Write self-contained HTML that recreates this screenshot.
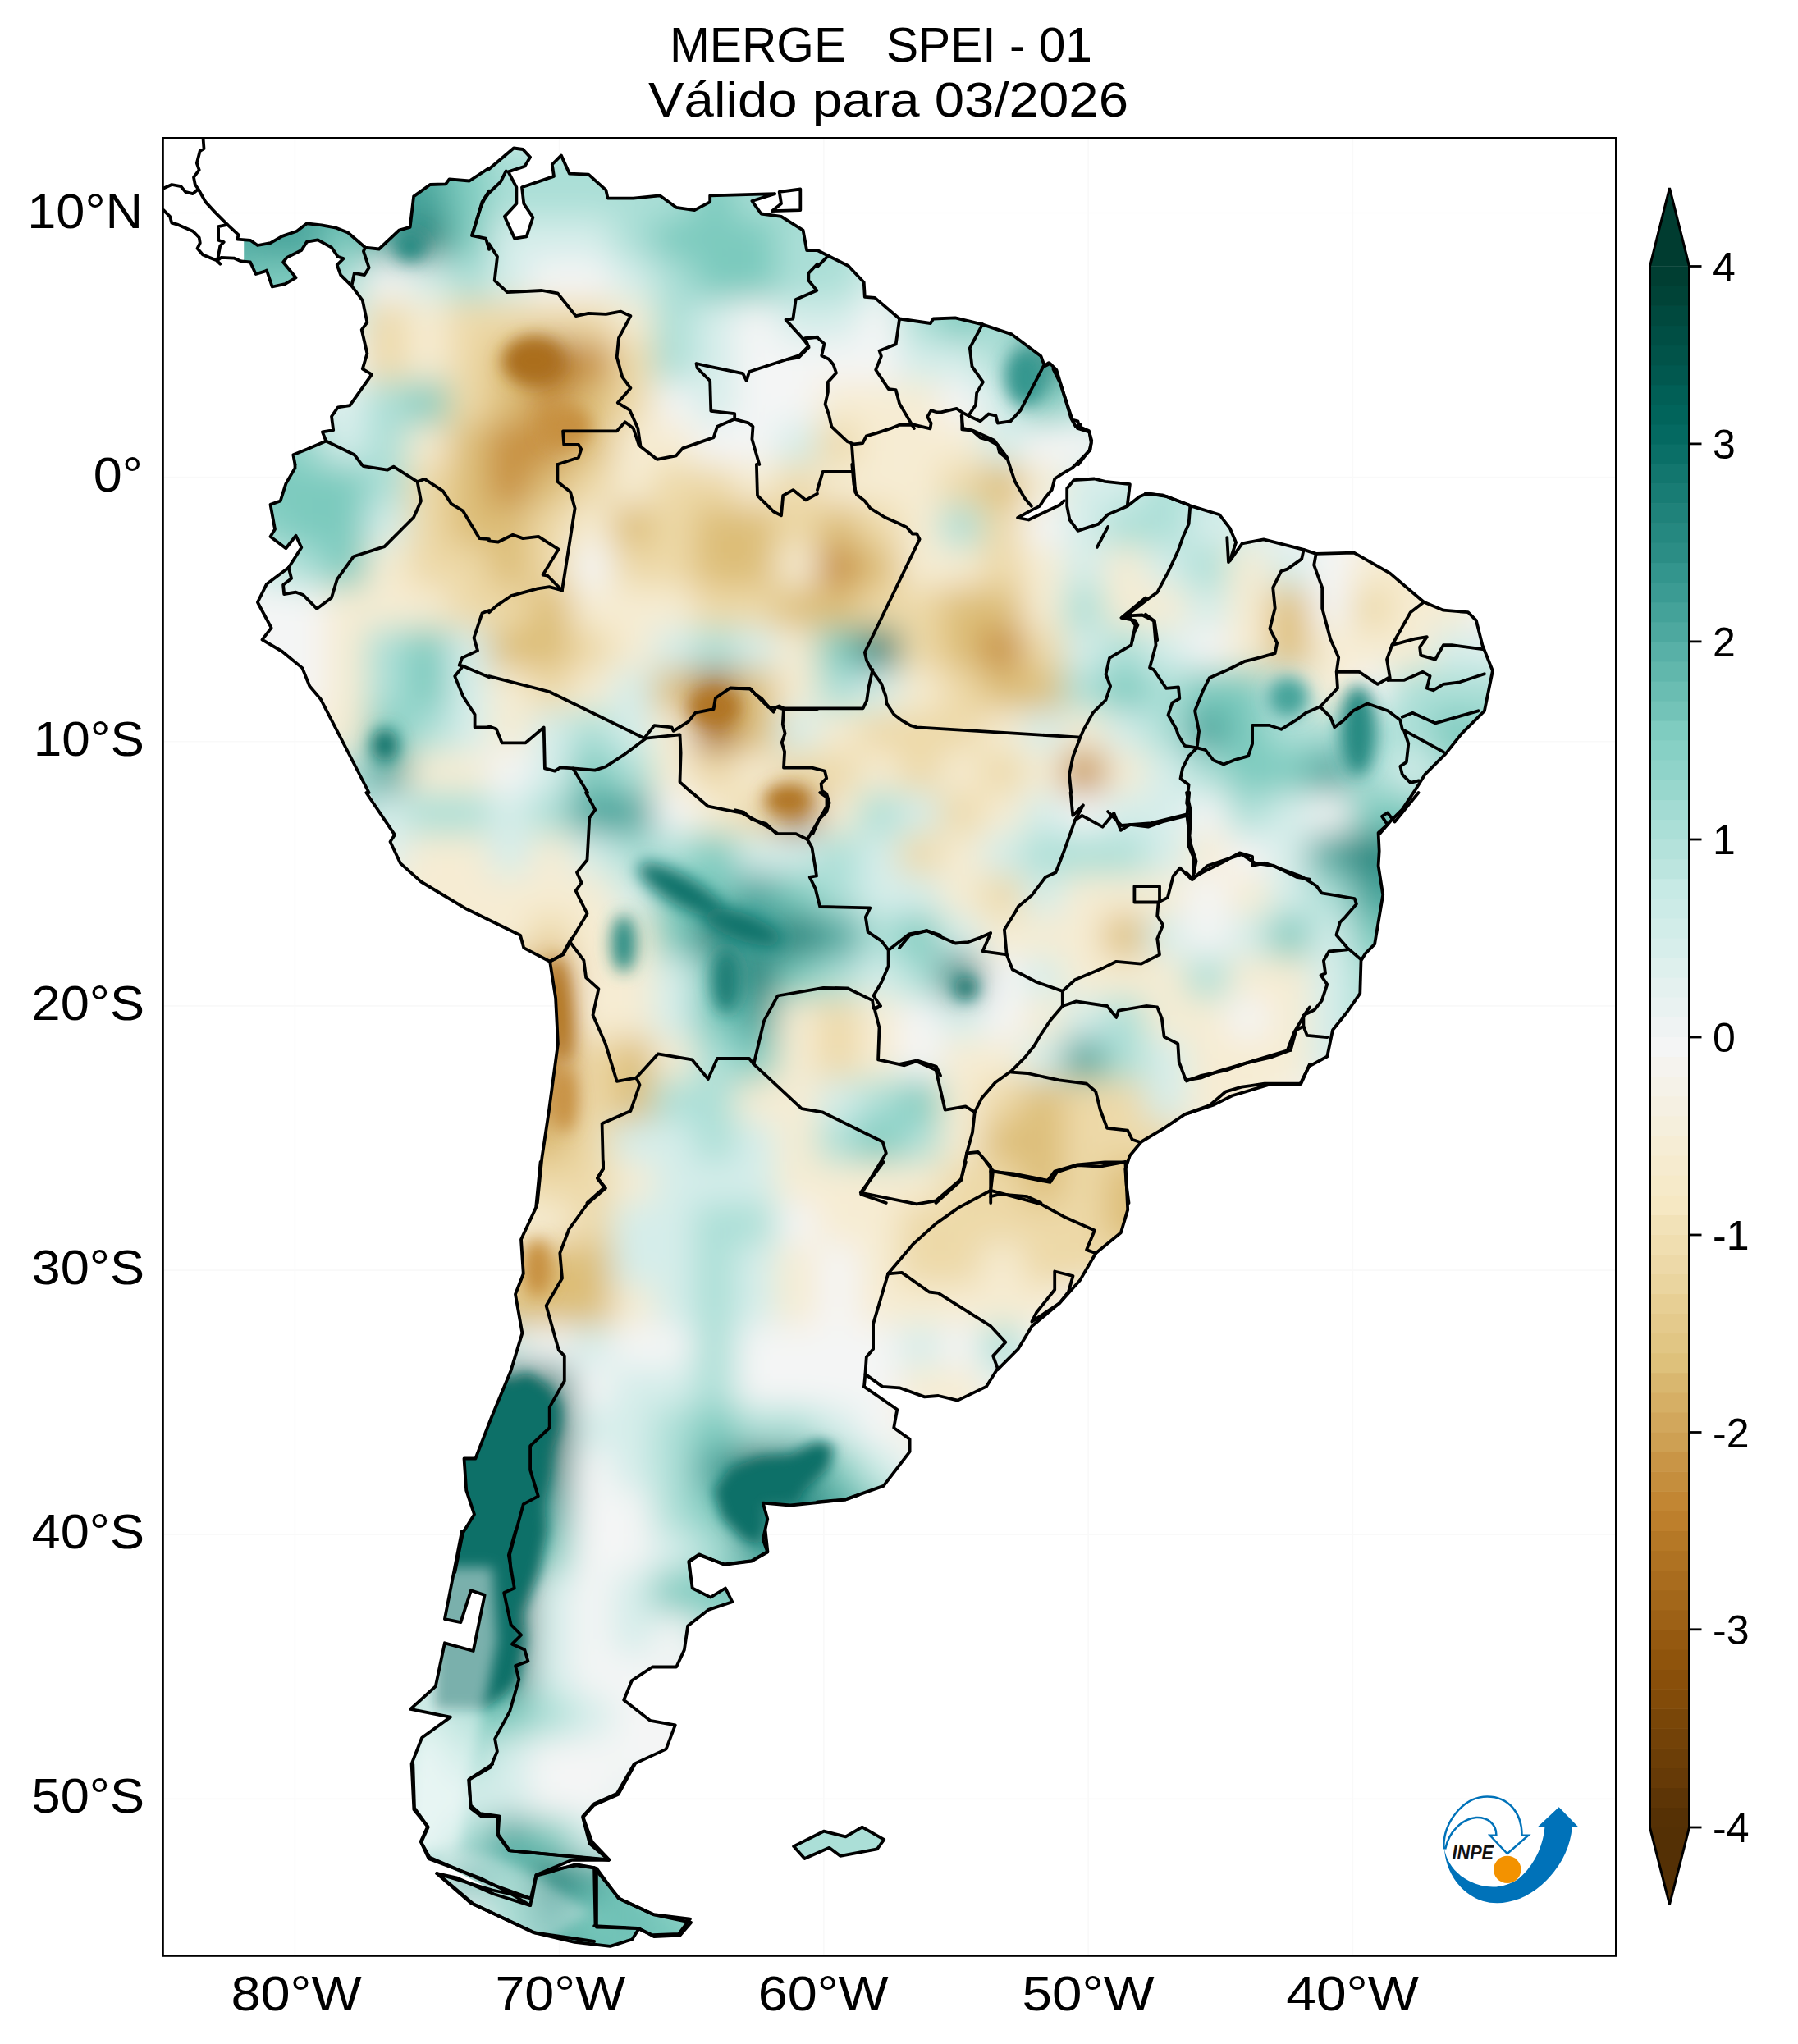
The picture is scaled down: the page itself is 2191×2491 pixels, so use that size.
<!DOCTYPE html><html><head><meta charset="utf-8"><style>html,body{margin:0;padding:0;background:#fff;width:2191px;height:2491px;overflow:hidden}svg{display:block}text{font-family:"Liberation Sans",sans-serif;fill:#000}</style></head><body>
<svg width="2191" height="2491" viewBox="0 0 2191 2491">
<defs><clipPath id="land"><path d="M297.2,292.8 305.0,292.8 313.9,299.0 329.5,296.1 343.9,287.9 361.7,281.7 374.0,272.3 391.8,274.3 409.6,277.7 424.0,283.5 445.2,301.7 461.9,303.5 486.3,280.6 499.7,276.8 504.1,239.4 524.1,225.0 543.1,224.3 547.5,218.3 572.0,220.5 596.0,204.9 626.0,180.5 637.2,182.0 646.1,191.6 639.4,202.7 619.4,209.4 629.4,228.3 629.4,248.3 614.9,263.9 627.1,290.6 641.6,288.4 649.4,265.0 638.3,248.3 636.0,228.3 675.0,214.9 672.8,200.5 683.9,189.4 693.9,211.6 717.2,212.7 738.4,231.6 740.6,241.6 771.8,241.6 804.0,238.3 824.0,252.8 846.3,256.1 865.2,246.1 865.2,238.3 944.2,236.1 916.4,245.0 927.5,260.5 952.0,263.9 978.6,280.6 983.1,305.0 996.0,305.0 1009.3,311.7 1033.8,324.0 1052.7,344.0 1053.8,361.8 1066.1,362.9 1096.1,388.5 1133.9,394.0 1137.3,388.5 1164.0,387.4 1196.2,395.1 1232.9,407.4 1268.5,434.1 1273.0,446.3 1279.6,443.0 1287.4,450.8 1305.2,509.7 1310.8,519.7 1316.4,517.5 1313.0,522.0 1327.5,526.4 1329.7,539.7 1327.5,548.6 1316.9,560.1 1306.8,570.1 1295.2,576.8 1285.2,583.5 1281.8,596.8 1273.5,606.8 1266.8,616.9 1256.8,621.9 1240.1,631.0 1253.5,633.5 1291.8,615.2 1300.2,616.9 1303.5,633.5 1313.5,646.9 1338.6,638.6 1350.2,626.9 1373.6,616.9 1388.6,605.2 1397.0,601.8 1417.0,603.5 1448.7,615.2 1486.1,627.3 1498.6,643.6 1506.1,661.1 1498.6,683.6 1513.6,662.3 1539.9,657.3 1588.7,669.9 1603.7,674.9 1650.0,673.6 1693.8,698.6 1735.1,733.7 1758.9,743.7 1788.9,746.2 1798.9,756.2 1806.4,786.2 1818.9,817.5 1808.9,866.3 1781.4,893.8 1761.4,918.9 1736.3,943.9 1723.8,963.9 1708.8,986.4 1693.8,1001.4 1679.6,1014.9 1680.7,1037.2 1679.6,1055.0 1685.2,1090.6 1675.1,1150.6 1664.0,1161.8 1658.5,1170.7 1657.3,1210.7 1641.8,1233.0 1624.0,1255.2 1617.3,1287.5 1595.1,1299.7 1583.9,1322.0 1546.1,1322.0 1501.6,1335.3 1479.4,1346.4 1446.0,1357.5 1418.6,1374.8 1390.8,1391.5 1376.9,1408.2 1371.3,1424.8 1372.7,1444.3 1374.2,1474.4 1365.9,1502.2 1335.3,1527.2 1315.8,1560.6 1290.8,1588.4 1257.4,1616.2 1240.7,1644.0 1215.7,1669.1 1201.8,1689.9 1167.0,1706.6 1143.4,1701.0 1126.7,1702.4 1096.1,1691.3 1075.3,1689.9 1054.4,1674.6 1053.0,1689.9 1093.3,1717.7 1089.2,1740.0 1108.6,1753.9 1108.6,1769.2 1076.6,1810.9 1029.4,1827.6 996.0,1830.3 1029.9,1827.6 963.1,1834.5 929.8,1831.7 935.3,1851.2 929.8,1876.2 935.3,1891.5 915.9,1902.7 882.5,1906.8 851.9,1894.3 839.4,1902.7 843.7,1935.5 865.9,1946.6 884.0,1935.5 892.3,1952.2 863.1,1961.9 838.1,1981.4 833.9,2010.6 824.2,2031.5 795.0,2031.5 770.0,2048.1 760.2,2071.8 792.2,2096.8 822.8,2102.4 811.7,2131.6 772.8,2149.6 751.9,2185.8 724.1,2198.3 710.2,2213.6 721.3,2244.2 742.2,2266.4 696.9,2266.8 653.5,2285.1 648.5,2313.5 600.1,2303.5 523.4,2263.4 512.7,2244.2 521.1,2226.1 504.4,2205.3 501.6,2149.6 514.1,2117.7 548.9,2092.6 500.2,2082.9 530.8,2055.1 541.9,2002.3 576.7,2012.0 590.6,1943.9 573.9,1938.3 561.4,1977.2 541.9,1973.1 562.8,1866.0 578.0,1845.6 568.2,1816.4 565.5,1777.5 579.4,1777.5 598.8,1727.5 622.5,1670.4 636.4,1624.6 628.0,1577.3 637.8,1552.3 635.0,1510.5 653.1,1471.6 660.4,1410.9 668.7,1355.3 679.9,1271.9 677.1,1216.3 670.1,1171.8 638.2,1155.1 634.0,1139.8 568.6,1107.8 513.0,1074.5 488.0,1052.2 475.5,1025.8 481.0,1017.4 449.6,966.0 390.7,851.9 377.3,836.3 368.4,814.1 343.9,794.0 319.5,779.6 330.6,765.1 313.9,734.0 325.0,711.7 351.7,691.7 367.3,667.2 360.6,652.8 348.4,668.3 329.5,653.9 335.0,645.0 329.5,614.9 341.7,610.5 348.4,589.4 359.5,570.4 359.5,566.0 357.3,554.2 374.0,547.5 397.3,537.5 392.9,526.4 406.2,524.2 404.0,507.5 411.8,496.4 426.3,494.1 453.0,456.3 441.8,449.6 447.4,430.7 440.7,401.8 447.4,392.9 441.8,366.2 428.5,348.4 415.1,335.1 410.7,322.8 418.5,315.1 411.8,312.8 404.0,301.7 387.3,292.4 374.0,294.6 367.3,305.0 349.5,313.9 345.1,319.5 360.6,338.4 347.3,346.2 331.7,349.5 325.0,329.5 322.8,330.6 311.7,334.0 305.0,319.5 297.2,318.4ZM653.5,2285.1 673.5,2278.5 703.5,2273.5 726.9,2276.8 753.6,2313.5 797.0,2333.5 842.0,2342.9 828.7,2358.5 797.0,2360.2 778.6,2350.2 770.3,2363.5 743.6,2371.9 700.2,2366.9 650.2,2355.2 576.7,2320.2 533.4,2283.5 600.1,2303.5 646.8,2313.5ZM967.1,2250.1 1003.8,2231.7 1030.5,2238.4 1050.6,2226.7 1077.2,2241.8 1068.9,2253.4 1023.9,2261.8 1010.5,2251.8 980.5,2265.1ZM1300.2,616.9 1303.5,633.5 1313.5,646.9 1338.6,638.6 1350.2,626.9 1373.6,616.9 1376.9,590.2 1346.9,586.8 1333.5,583.5 1308.5,585.2 1300.2,595.2Z"/></clipPath>
<filter id="bl" x="0" y="0" width="2191" height="2491" filterUnits="userSpaceOnUse"><feGaussianBlur stdDeviation="20"/></filter><filter id="bl2" x="0" y="0" width="2191" height="2491" filterUnits="userSpaceOnUse"><feGaussianBlur stdDeviation="8"/></filter><filter id="bl3" x="0" y="0" width="2191" height="2491" filterUnits="userSpaceOnUse"><feGaussianBlur stdDeviation="10"/></filter></defs>
<g stroke="#f9f9f9" stroke-width="1.6"><line x1="359.4" y1="169.8" x2="359.4" y2="2382" /><line x1="681.6" y1="169.8" x2="681.6" y2="2382" /><line x1="1003.9" y1="169.8" x2="1003.9" y2="2382" /><line x1="1326.2" y1="169.8" x2="1326.2" y2="2382" /><line x1="1648.4" y1="169.8" x2="1648.4" y2="2382" /><line x1="199.8" y1="259.5" x2="1968" y2="259.5" /><line x1="199.8" y1="581.6" x2="1968" y2="581.6" /><line x1="199.8" y1="903.8" x2="1968" y2="903.8" /><line x1="199.8" y1="1225.9" x2="1968" y2="1225.9" /><line x1="199.8" y1="1548.1" x2="1968" y2="1548.1" /><line x1="199.8" y1="1870.2" x2="1968" y2="1870.2" /><line x1="199.8" y1="2192.4" x2="1968" y2="2192.4" /></g>
<g clip-path="url(#land)"><g filter="url(#bl)">
<rect x="196" y="166" width="50" height="50" fill="#47a49b"/>
<rect x="246" y="166" width="50" height="50" fill="#47a49b"/>
<rect x="296" y="166" width="50" height="50" fill="#4da89f"/>
<rect x="346" y="166" width="50" height="50" fill="#52aca3"/>
<rect x="396" y="166" width="50" height="50" fill="#4faaa1"/>
<rect x="446" y="166" width="50" height="50" fill="#47a49b"/>
<rect x="496" y="166" width="50" height="50" fill="#61b7ac"/>
<rect x="546" y="166" width="50" height="50" fill="#87d0c5"/>
<rect x="596" y="166" width="50" height="50" fill="#abdfd7"/>
<rect x="646" y="166" width="50" height="50" fill="#abdfd7"/>
<rect x="696" y="166" width="50" height="50" fill="#abdfd7"/>
<rect x="746" y="166" width="50" height="50" fill="#abdfd7"/>
<rect x="796" y="166" width="50" height="50" fill="#9ad8ce"/>
<rect x="846" y="166" width="50" height="50" fill="#9ad8ce"/>
<rect x="896" y="166" width="50" height="50" fill="#92d4ca"/>
<rect x="946" y="166" width="50" height="50" fill="#abdfd7"/>
<rect x="996" y="166" width="50" height="50" fill="#a8ddd5"/>
<rect x="1046" y="166" width="50" height="50" fill="#abdfd7"/>
<rect x="1096" y="166" width="50" height="50" fill="#abdfd7"/>
<rect x="1146" y="166" width="50" height="50" fill="#c4e9e4"/>
<rect x="1196" y="166" width="50" height="50" fill="#d5edea"/>
<rect x="1246" y="166" width="50" height="50" fill="#a6dcd4"/>
<rect x="1296" y="166" width="50" height="50" fill="#84cfc3"/>
<rect x="1346" y="166" width="50" height="50" fill="#7fccc0"/>
<rect x="1396" y="166" width="50" height="50" fill="#7fccc0"/>
<rect x="1446" y="166" width="50" height="50" fill="#7ccabe"/>
<rect x="196" y="216" width="50" height="50" fill="#52aca3"/>
<rect x="246" y="216" width="50" height="50" fill="#47a49b"/>
<rect x="296" y="216" width="50" height="50" fill="#47a49b"/>
<rect x="346" y="216" width="50" height="50" fill="#58b0a7"/>
<rect x="396" y="216" width="50" height="50" fill="#58b0a7"/>
<rect x="446" y="216" width="50" height="50" fill="#47a49b"/>
<rect x="496" y="216" width="50" height="50" fill="#47a49b"/>
<rect x="546" y="216" width="50" height="50" fill="#7ccabe"/>
<rect x="596" y="216" width="50" height="50" fill="#abdfd7"/>
<rect x="646" y="216" width="50" height="50" fill="#abdfd7"/>
<rect x="696" y="216" width="50" height="50" fill="#abdfd7"/>
<rect x="746" y="216" width="50" height="50" fill="#abdfd7"/>
<rect x="796" y="216" width="50" height="50" fill="#abdfd7"/>
<rect x="846" y="216" width="50" height="50" fill="#7ccabe"/>
<rect x="896" y="216" width="50" height="50" fill="#abdfd7"/>
<rect x="946" y="216" width="50" height="50" fill="#a0dad1"/>
<rect x="996" y="216" width="50" height="50" fill="#abdfd7"/>
<rect x="1046" y="216" width="50" height="50" fill="#abdfd7"/>
<rect x="1096" y="216" width="50" height="50" fill="#c1e8e2"/>
<rect x="1146" y="216" width="50" height="50" fill="#d5edea"/>
<rect x="1196" y="216" width="50" height="50" fill="#abdfd7"/>
<rect x="1246" y="216" width="50" height="50" fill="#8dd2c7"/>
<rect x="1296" y="216" width="50" height="50" fill="#84cfc3"/>
<rect x="1346" y="216" width="50" height="50" fill="#81cec2"/>
<rect x="1396" y="216" width="50" height="50" fill="#7ccabe"/>
<rect x="1446" y="216" width="50" height="50" fill="#79c8bc"/>
<rect x="1496" y="216" width="50" height="50" fill="#7ccabe"/>
<rect x="196" y="266" width="50" height="50" fill="#58b0a7"/>
<rect x="246" y="266" width="50" height="50" fill="#61b7ac"/>
<rect x="296" y="266" width="50" height="50" fill="#47a49b"/>
<rect x="346" y="266" width="50" height="50" fill="#47a49b"/>
<rect x="396" y="266" width="50" height="50" fill="#7ccabe"/>
<rect x="446" y="266" width="50" height="50" fill="#47a49b"/>
<rect x="496" y="266" width="50" height="50" fill="#1d8078"/>
<rect x="546" y="266" width="50" height="50" fill="#7ccabe"/>
<rect x="596" y="266" width="50" height="50" fill="#d5edea"/>
<rect x="646" y="266" width="50" height="50" fill="#d5edea"/>
<rect x="696" y="266" width="50" height="50" fill="#d5edea"/>
<rect x="746" y="266" width="50" height="50" fill="#abdfd7"/>
<rect x="796" y="266" width="50" height="50" fill="#7ccabe"/>
<rect x="846" y="266" width="50" height="50" fill="#7ccabe"/>
<rect x="896" y="266" width="50" height="50" fill="#7ccabe"/>
<rect x="946" y="266" width="50" height="50" fill="#abdfd7"/>
<rect x="996" y="266" width="50" height="50" fill="#abdfd7"/>
<rect x="1046" y="266" width="50" height="50" fill="#bce5df"/>
<rect x="1096" y="266" width="50" height="50" fill="#d5edea"/>
<rect x="1146" y="266" width="50" height="50" fill="#b1e1da"/>
<rect x="1196" y="266" width="50" height="50" fill="#92d4ca"/>
<rect x="1246" y="266" width="50" height="50" fill="#8ad1c6"/>
<rect x="1296" y="266" width="50" height="50" fill="#87d0c5"/>
<rect x="1346" y="266" width="50" height="50" fill="#7ccabe"/>
<rect x="1396" y="266" width="50" height="50" fill="#76c6ba"/>
<rect x="1446" y="266" width="50" height="50" fill="#7ccabe"/>
<rect x="1496" y="266" width="50" height="50" fill="#7fccc0"/>
<rect x="196" y="316" width="50" height="50" fill="#6abdb2"/>
<rect x="246" y="316" width="50" height="50" fill="#61b7ac"/>
<rect x="296" y="316" width="50" height="50" fill="#7ccabe"/>
<rect x="346" y="316" width="50" height="50" fill="#7ccabe"/>
<rect x="396" y="316" width="50" height="50" fill="#abdfd7"/>
<rect x="446" y="316" width="50" height="50" fill="#f4f5f5"/>
<rect x="496" y="316" width="50" height="50" fill="#d5edea"/>
<rect x="546" y="316" width="50" height="50" fill="#abdfd7"/>
<rect x="596" y="316" width="50" height="50" fill="#d5edea"/>
<rect x="646" y="316" width="50" height="50" fill="#f4f5f5"/>
<rect x="696" y="316" width="50" height="50" fill="#f4f5f5"/>
<rect x="746" y="316" width="50" height="50" fill="#d5edea"/>
<rect x="796" y="316" width="50" height="50" fill="#abdfd7"/>
<rect x="846" y="316" width="50" height="50" fill="#7ccabe"/>
<rect x="896" y="316" width="50" height="50" fill="#7ccabe"/>
<rect x="946" y="316" width="50" height="50" fill="#abdfd7"/>
<rect x="996" y="316" width="50" height="50" fill="#abdfd7"/>
<rect x="1046" y="316" width="50" height="50" fill="#d5edea"/>
<rect x="1096" y="316" width="50" height="50" fill="#c4e9e4"/>
<rect x="1146" y="316" width="50" height="50" fill="#9ad8ce"/>
<rect x="1196" y="316" width="50" height="50" fill="#8dd2c7"/>
<rect x="1246" y="316" width="50" height="50" fill="#92d4ca"/>
<rect x="1296" y="316" width="50" height="50" fill="#7ccabe"/>
<rect x="1346" y="316" width="50" height="50" fill="#70c1b6"/>
<rect x="1396" y="316" width="50" height="50" fill="#7ccabe"/>
<rect x="1446" y="316" width="50" height="50" fill="#81cec2"/>
<rect x="1496" y="316" width="50" height="50" fill="#a0dad1"/>
<rect x="1546" y="316" width="50" height="50" fill="#d5edea"/>
<rect x="196" y="366" width="50" height="50" fill="#6dbfb4"/>
<rect x="246" y="366" width="50" height="50" fill="#7ccabe"/>
<rect x="296" y="366" width="50" height="50" fill="#7ccabe"/>
<rect x="346" y="366" width="50" height="50" fill="#a0dad1"/>
<rect x="396" y="366" width="50" height="50" fill="#d5edea"/>
<rect x="446" y="366" width="50" height="50" fill="#edd9a8"/>
<rect x="496" y="366" width="50" height="50" fill="#f6ecd3"/>
<rect x="546" y="366" width="50" height="50" fill="#edd9a8"/>
<rect x="596" y="366" width="50" height="50" fill="#edd9a8"/>
<rect x="646" y="366" width="50" height="50" fill="#edd9a8"/>
<rect x="696" y="366" width="50" height="50" fill="#edd9a8"/>
<rect x="746" y="366" width="50" height="50" fill="#f6ecd3"/>
<rect x="796" y="366" width="50" height="50" fill="#abdfd7"/>
<rect x="846" y="366" width="50" height="50" fill="#d5edea"/>
<rect x="896" y="366" width="50" height="50" fill="#f4f5f5"/>
<rect x="946" y="366" width="50" height="50" fill="#d5edea"/>
<rect x="996" y="366" width="50" height="50" fill="#d5edea"/>
<rect x="1046" y="366" width="50" height="50" fill="#f4f5f5"/>
<rect x="1096" y="366" width="50" height="50" fill="#abdfd7"/>
<rect x="1146" y="366" width="50" height="50" fill="#7ccabe"/>
<rect x="1196" y="366" width="50" height="50" fill="#abdfd7"/>
<rect x="1246" y="366" width="50" height="50" fill="#7ccabe"/>
<rect x="1296" y="366" width="50" height="50" fill="#58b0a7"/>
<rect x="1346" y="366" width="50" height="50" fill="#7ccabe"/>
<rect x="1396" y="366" width="50" height="50" fill="#87d0c5"/>
<rect x="1446" y="366" width="50" height="50" fill="#a3dbd3"/>
<rect x="1496" y="366" width="50" height="50" fill="#d5edea"/>
<rect x="1546" y="366" width="50" height="50" fill="#c4e9e4"/>
<rect x="1596" y="366" width="50" height="50" fill="#abdfd7"/>
<rect x="196" y="416" width="50" height="50" fill="#7ccabe"/>
<rect x="246" y="416" width="50" height="50" fill="#7ccabe"/>
<rect x="296" y="416" width="50" height="50" fill="#a8ddd5"/>
<rect x="346" y="416" width="50" height="50" fill="#d5edea"/>
<rect x="396" y="416" width="50" height="50" fill="#f5f3ec"/>
<rect x="446" y="416" width="50" height="50" fill="#edd9a8"/>
<rect x="496" y="416" width="50" height="50" fill="#f6ecd3"/>
<rect x="546" y="416" width="50" height="50" fill="#edd9a8"/>
<rect x="596" y="416" width="50" height="50" fill="#ddbe78"/>
<rect x="646" y="416" width="50" height="50" fill="#a96c1e"/>
<rect x="696" y="416" width="50" height="50" fill="#c79040"/>
<rect x="746" y="416" width="50" height="50" fill="#edd9a8"/>
<rect x="796" y="416" width="50" height="50" fill="#abdfd7"/>
<rect x="846" y="416" width="50" height="50" fill="#d5edea"/>
<rect x="896" y="416" width="50" height="50" fill="#f4f5f5"/>
<rect x="946" y="416" width="50" height="50" fill="#f4f5f5"/>
<rect x="996" y="416" width="50" height="50" fill="#f4f5f5"/>
<rect x="1046" y="416" width="50" height="50" fill="#f4f5f5"/>
<rect x="1096" y="416" width="50" height="50" fill="#d5edea"/>
<rect x="1146" y="416" width="50" height="50" fill="#d5edea"/>
<rect x="1196" y="416" width="50" height="50" fill="#abdfd7"/>
<rect x="1246" y="416" width="50" height="50" fill="#1d8078"/>
<rect x="1296" y="416" width="50" height="50" fill="#7ccabe"/>
<rect x="1346" y="416" width="50" height="50" fill="#92d4ca"/>
<rect x="1396" y="416" width="50" height="50" fill="#abdfd7"/>
<rect x="1446" y="416" width="50" height="50" fill="#d5edea"/>
<rect x="1496" y="416" width="50" height="50" fill="#c4e9e4"/>
<rect x="1546" y="416" width="50" height="50" fill="#abdfd7"/>
<rect x="1596" y="416" width="50" height="50" fill="#cbebe6"/>
<rect x="1646" y="416" width="50" height="50" fill="#d5edea"/>
<rect x="1696" y="416" width="50" height="50" fill="#d5edea"/>
<rect x="196" y="466" width="50" height="50" fill="#7ccabe"/>
<rect x="246" y="466" width="50" height="50" fill="#7ccabe"/>
<rect x="296" y="466" width="50" height="50" fill="#b4e2db"/>
<rect x="346" y="466" width="50" height="50" fill="#d5edea"/>
<rect x="396" y="466" width="50" height="50" fill="#ddefed"/>
<rect x="446" y="466" width="50" height="50" fill="#abdfd7"/>
<rect x="496" y="466" width="50" height="50" fill="#7ccabe"/>
<rect x="546" y="466" width="50" height="50" fill="#edd9a8"/>
<rect x="596" y="466" width="50" height="50" fill="#ddbe78"/>
<rect x="646" y="466" width="50" height="50" fill="#c79040"/>
<rect x="696" y="466" width="50" height="50" fill="#ddbe78"/>
<rect x="746" y="466" width="50" height="50" fill="#edd9a8"/>
<rect x="796" y="466" width="50" height="50" fill="#f4f5f5"/>
<rect x="846" y="466" width="50" height="50" fill="#d5edea"/>
<rect x="896" y="466" width="50" height="50" fill="#f4f5f5"/>
<rect x="946" y="466" width="50" height="50" fill="#f4f5f5"/>
<rect x="996" y="466" width="50" height="50" fill="#f6ecd3"/>
<rect x="1046" y="466" width="50" height="50" fill="#f6ecd3"/>
<rect x="1096" y="466" width="50" height="50" fill="#f6ecd3"/>
<rect x="1146" y="466" width="50" height="50" fill="#f4f5f5"/>
<rect x="1196" y="466" width="50" height="50" fill="#d5edea"/>
<rect x="1246" y="466" width="50" height="50" fill="#7ccabe"/>
<rect x="1296" y="466" width="50" height="50" fill="#abdfd7"/>
<rect x="1346" y="466" width="50" height="50" fill="#c4e9e4"/>
<rect x="1396" y="466" width="50" height="50" fill="#d5edea"/>
<rect x="1446" y="466" width="50" height="50" fill="#c7eae5"/>
<rect x="1496" y="466" width="50" height="50" fill="#abdfd7"/>
<rect x="1546" y="466" width="50" height="50" fill="#cbebe6"/>
<rect x="1596" y="466" width="50" height="50" fill="#d5edea"/>
<rect x="1646" y="466" width="50" height="50" fill="#d5edea"/>
<rect x="1696" y="466" width="50" height="50" fill="#f5f4f0"/>
<rect x="1746" y="466" width="50" height="50" fill="#f6edd7"/>
<rect x="1796" y="466" width="50" height="50" fill="#f6edd5"/>
<rect x="1846" y="466" width="50" height="50" fill="#f6ecd3"/>
<rect x="196" y="516" width="50" height="50" fill="#7ccabe"/>
<rect x="246" y="516" width="50" height="50" fill="#7ccabe"/>
<rect x="296" y="516" width="50" height="50" fill="#7ccabe"/>
<rect x="346" y="516" width="50" height="50" fill="#9ad8ce"/>
<rect x="396" y="516" width="50" height="50" fill="#d5edea"/>
<rect x="446" y="516" width="50" height="50" fill="#abdfd7"/>
<rect x="496" y="516" width="50" height="50" fill="#f6ecd3"/>
<rect x="546" y="516" width="50" height="50" fill="#ddbe78"/>
<rect x="596" y="516" width="50" height="50" fill="#c79040"/>
<rect x="646" y="516" width="50" height="50" fill="#c79040"/>
<rect x="696" y="516" width="50" height="50" fill="#ddbe78"/>
<rect x="746" y="516" width="50" height="50" fill="#f6ecd3"/>
<rect x="796" y="516" width="50" height="50" fill="#f6ecd3"/>
<rect x="846" y="516" width="50" height="50" fill="#f4f5f5"/>
<rect x="896" y="516" width="50" height="50" fill="#f4f5f5"/>
<rect x="946" y="516" width="50" height="50" fill="#d5edea"/>
<rect x="996" y="516" width="50" height="50" fill="#edd9a8"/>
<rect x="1046" y="516" width="50" height="50" fill="#f6ecd3"/>
<rect x="1096" y="516" width="50" height="50" fill="#f6ecd3"/>
<rect x="1146" y="516" width="50" height="50" fill="#f6ecd3"/>
<rect x="1196" y="516" width="50" height="50" fill="#d5edea"/>
<rect x="1246" y="516" width="50" height="50" fill="#f4f5f5"/>
<rect x="1296" y="516" width="50" height="50" fill="#f4f5f5"/>
<rect x="1346" y="516" width="50" height="50" fill="#d5edea"/>
<rect x="1396" y="516" width="50" height="50" fill="#cbebe6"/>
<rect x="1446" y="516" width="50" height="50" fill="#abdfd7"/>
<rect x="1496" y="516" width="50" height="50" fill="#c9eae6"/>
<rect x="1546" y="516" width="50" height="50" fill="#d5edea"/>
<rect x="1596" y="516" width="50" height="50" fill="#d5edea"/>
<rect x="1646" y="516" width="50" height="50" fill="#f5f5f4"/>
<rect x="1696" y="516" width="50" height="50" fill="#f6eedb"/>
<rect x="1746" y="516" width="50" height="50" fill="#f6edd7"/>
<rect x="1796" y="516" width="50" height="50" fill="#f6ecd3"/>
<rect x="1846" y="516" width="50" height="50" fill="#f6ecd3"/>
<rect x="1896" y="516" width="50" height="50" fill="#f6ecd3"/>
<rect x="1946" y="516" width="50" height="50" fill="#f6ecd3"/>
<rect x="196" y="566" width="50" height="50" fill="#b1e1da"/>
<rect x="246" y="566" width="50" height="50" fill="#81cec2"/>
<rect x="296" y="566" width="50" height="50" fill="#7ccabe"/>
<rect x="346" y="566" width="50" height="50" fill="#7ccabe"/>
<rect x="396" y="566" width="50" height="50" fill="#7ccabe"/>
<rect x="446" y="566" width="50" height="50" fill="#abdfd7"/>
<rect x="496" y="566" width="50" height="50" fill="#edd9a8"/>
<rect x="546" y="566" width="50" height="50" fill="#ddbe78"/>
<rect x="596" y="566" width="50" height="50" fill="#c79040"/>
<rect x="646" y="566" width="50" height="50" fill="#ddbe78"/>
<rect x="696" y="566" width="50" height="50" fill="#edd9a8"/>
<rect x="746" y="566" width="50" height="50" fill="#f6ecd3"/>
<rect x="796" y="566" width="50" height="50" fill="#edd9a8"/>
<rect x="846" y="566" width="50" height="50" fill="#edd9a8"/>
<rect x="896" y="566" width="50" height="50" fill="#f6ecd3"/>
<rect x="946" y="566" width="50" height="50" fill="#edd9a8"/>
<rect x="996" y="566" width="50" height="50" fill="#f6ecd3"/>
<rect x="1046" y="566" width="50" height="50" fill="#f6ecd3"/>
<rect x="1096" y="566" width="50" height="50" fill="#f6ecd3"/>
<rect x="1146" y="566" width="50" height="50" fill="#edd9a8"/>
<rect x="1196" y="566" width="50" height="50" fill="#ddbe78"/>
<rect x="1246" y="566" width="50" height="50" fill="#f6ecd3"/>
<rect x="1296" y="566" width="50" height="50" fill="#d5edea"/>
<rect x="1346" y="566" width="50" height="50" fill="#d5edea"/>
<rect x="1396" y="566" width="50" height="50" fill="#abdfd7"/>
<rect x="1446" y="566" width="50" height="50" fill="#c4e9e4"/>
<rect x="1496" y="566" width="50" height="50" fill="#d5edea"/>
<rect x="1546" y="566" width="50" height="50" fill="#d5edea"/>
<rect x="1596" y="566" width="50" height="50" fill="#eff3f3"/>
<rect x="1646" y="566" width="50" height="50" fill="#f5f1e4"/>
<rect x="1696" y="566" width="50" height="50" fill="#f6eedb"/>
<rect x="1746" y="566" width="50" height="50" fill="#f6ecd3"/>
<rect x="1796" y="566" width="50" height="50" fill="#f6ecd3"/>
<rect x="1846" y="566" width="50" height="50" fill="#f6ecd3"/>
<rect x="1896" y="566" width="50" height="50" fill="#f6ecd3"/>
<rect x="1946" y="566" width="50" height="50" fill="#f6edd7"/>
<rect x="196" y="616" width="50" height="50" fill="#f4f5f5"/>
<rect x="246" y="616" width="50" height="50" fill="#b9e4de"/>
<rect x="296" y="616" width="50" height="50" fill="#8dd2c7"/>
<rect x="346" y="616" width="50" height="50" fill="#7ccabe"/>
<rect x="396" y="616" width="50" height="50" fill="#7ccabe"/>
<rect x="446" y="616" width="50" height="50" fill="#d5edea"/>
<rect x="496" y="616" width="50" height="50" fill="#edd9a8"/>
<rect x="546" y="616" width="50" height="50" fill="#ddbe78"/>
<rect x="596" y="616" width="50" height="50" fill="#ddbe78"/>
<rect x="646" y="616" width="50" height="50" fill="#edd9a8"/>
<rect x="696" y="616" width="50" height="50" fill="#f6ecd3"/>
<rect x="746" y="616" width="50" height="50" fill="#ddbe78"/>
<rect x="796" y="616" width="50" height="50" fill="#edd9a8"/>
<rect x="846" y="616" width="50" height="50" fill="#ddbe78"/>
<rect x="896" y="616" width="50" height="50" fill="#ddbe78"/>
<rect x="946" y="616" width="50" height="50" fill="#edd9a8"/>
<rect x="996" y="616" width="50" height="50" fill="#ddbe78"/>
<rect x="1046" y="616" width="50" height="50" fill="#edd9a8"/>
<rect x="1096" y="616" width="50" height="50" fill="#f6ecd3"/>
<rect x="1146" y="616" width="50" height="50" fill="#abdfd7"/>
<rect x="1196" y="616" width="50" height="50" fill="#edd9a8"/>
<rect x="1246" y="616" width="50" height="50" fill="#f4f5f5"/>
<rect x="1296" y="616" width="50" height="50" fill="#d5edea"/>
<rect x="1346" y="616" width="50" height="50" fill="#abdfd7"/>
<rect x="1396" y="616" width="50" height="50" fill="#abdfd7"/>
<rect x="1446" y="616" width="50" height="50" fill="#d5edea"/>
<rect x="1496" y="616" width="50" height="50" fill="#d5edea"/>
<rect x="1546" y="616" width="50" height="50" fill="#edf3f2"/>
<rect x="1596" y="616" width="50" height="50" fill="#f4f5f5"/>
<rect x="1646" y="616" width="50" height="50" fill="#f5f1e4"/>
<rect x="1696" y="616" width="50" height="50" fill="#f6ecd3"/>
<rect x="1746" y="616" width="50" height="50" fill="#f6ecd1"/>
<rect x="1796" y="616" width="50" height="50" fill="#f6ecd3"/>
<rect x="1846" y="616" width="50" height="50" fill="#f6ecd3"/>
<rect x="1896" y="616" width="50" height="50" fill="#f6eedb"/>
<rect x="1946" y="616" width="50" height="50" fill="#f6eedb"/>
<rect x="196" y="666" width="50" height="50" fill="#f4f5f5"/>
<rect x="246" y="666" width="50" height="50" fill="#f4f5f5"/>
<rect x="296" y="666" width="50" height="50" fill="#ccebe7"/>
<rect x="346" y="666" width="50" height="50" fill="#abdfd7"/>
<rect x="396" y="666" width="50" height="50" fill="#7ccabe"/>
<rect x="446" y="666" width="50" height="50" fill="#f6ecd3"/>
<rect x="496" y="666" width="50" height="50" fill="#edd9a8"/>
<rect x="546" y="666" width="50" height="50" fill="#edd9a8"/>
<rect x="596" y="666" width="50" height="50" fill="#ddbe78"/>
<rect x="646" y="666" width="50" height="50" fill="#edd9a8"/>
<rect x="696" y="666" width="50" height="50" fill="#f4f5f5"/>
<rect x="746" y="666" width="50" height="50" fill="#edd9a8"/>
<rect x="796" y="666" width="50" height="50" fill="#edd9a8"/>
<rect x="846" y="666" width="50" height="50" fill="#ddbe78"/>
<rect x="896" y="666" width="50" height="50" fill="#ddbe78"/>
<rect x="946" y="666" width="50" height="50" fill="#f6ecd3"/>
<rect x="996" y="666" width="50" height="50" fill="#c79040"/>
<rect x="1046" y="666" width="50" height="50" fill="#ddbe78"/>
<rect x="1096" y="666" width="50" height="50" fill="#f6ecd3"/>
<rect x="1146" y="666" width="50" height="50" fill="#f6ecd3"/>
<rect x="1196" y="666" width="50" height="50" fill="#edd9a8"/>
<rect x="1246" y="666" width="50" height="50" fill="#f6ecd3"/>
<rect x="1296" y="666" width="50" height="50" fill="#d5edea"/>
<rect x="1346" y="666" width="50" height="50" fill="#f6ecd3"/>
<rect x="1396" y="666" width="50" height="50" fill="#d5edea"/>
<rect x="1446" y="666" width="50" height="50" fill="#abdfd7"/>
<rect x="1496" y="666" width="50" height="50" fill="#f6ecd3"/>
<rect x="1546" y="666" width="50" height="50" fill="#d5edea"/>
<rect x="1596" y="666" width="50" height="50" fill="#f4f5f5"/>
<rect x="1646" y="666" width="50" height="50" fill="#f6ecd3"/>
<rect x="1696" y="666" width="50" height="50" fill="#f6eacb"/>
<rect x="1746" y="666" width="50" height="50" fill="#f6ecd3"/>
<rect x="1796" y="666" width="50" height="50" fill="#f6ecd3"/>
<rect x="1846" y="666" width="50" height="50" fill="#f5f1e4"/>
<rect x="1896" y="666" width="50" height="50" fill="#f5f0e2"/>
<rect x="1946" y="666" width="50" height="50" fill="#f5f1e6"/>
<rect x="196" y="716" width="50" height="50" fill="#f4f5f5"/>
<rect x="246" y="716" width="50" height="50" fill="#f4f5f5"/>
<rect x="296" y="716" width="50" height="50" fill="#f4f5f5"/>
<rect x="346" y="716" width="50" height="50" fill="#f4f5f5"/>
<rect x="396" y="716" width="50" height="50" fill="#f6ecd3"/>
<rect x="446" y="716" width="50" height="50" fill="#f6ecd3"/>
<rect x="496" y="716" width="50" height="50" fill="#f6ecd3"/>
<rect x="546" y="716" width="50" height="50" fill="#edd9a8"/>
<rect x="596" y="716" width="50" height="50" fill="#edd9a8"/>
<rect x="646" y="716" width="50" height="50" fill="#ddbe78"/>
<rect x="696" y="716" width="50" height="50" fill="#f6ecd3"/>
<rect x="746" y="716" width="50" height="50" fill="#f6ecd3"/>
<rect x="796" y="716" width="50" height="50" fill="#f6ecd3"/>
<rect x="846" y="716" width="50" height="50" fill="#edd9a8"/>
<rect x="896" y="716" width="50" height="50" fill="#edd9a8"/>
<rect x="946" y="716" width="50" height="50" fill="#ddbe78"/>
<rect x="996" y="716" width="50" height="50" fill="#ddbe78"/>
<rect x="1046" y="716" width="50" height="50" fill="#edd9a8"/>
<rect x="1096" y="716" width="50" height="50" fill="#edd9a8"/>
<rect x="1146" y="716" width="50" height="50" fill="#ddbe78"/>
<rect x="1196" y="716" width="50" height="50" fill="#ddbe78"/>
<rect x="1246" y="716" width="50" height="50" fill="#f6ecd3"/>
<rect x="1296" y="716" width="50" height="50" fill="#abdfd7"/>
<rect x="1346" y="716" width="50" height="50" fill="#f6ecd3"/>
<rect x="1396" y="716" width="50" height="50" fill="#f6ecd3"/>
<rect x="1446" y="716" width="50" height="50" fill="#d5edea"/>
<rect x="1496" y="716" width="50" height="50" fill="#f6ecd3"/>
<rect x="1546" y="716" width="50" height="50" fill="#ddbe78"/>
<rect x="1596" y="716" width="50" height="50" fill="#f4f5f5"/>
<rect x="1646" y="716" width="50" height="50" fill="#edd9a8"/>
<rect x="1696" y="716" width="50" height="50" fill="#f6ecd3"/>
<rect x="1746" y="716" width="50" height="50" fill="#f6ecd3"/>
<rect x="1796" y="716" width="50" height="50" fill="#f4f5f5"/>
<rect x="1846" y="716" width="50" height="50" fill="#f5f4f2"/>
<rect x="1896" y="716" width="50" height="50" fill="#f2f4f4"/>
<rect x="1946" y="716" width="50" height="50" fill="#f0f4f3"/>
<rect x="196" y="766" width="50" height="50" fill="#f4f5f5"/>
<rect x="246" y="766" width="50" height="50" fill="#f4f5f5"/>
<rect x="296" y="766" width="50" height="50" fill="#f4f5f5"/>
<rect x="346" y="766" width="50" height="50" fill="#f4f5f5"/>
<rect x="396" y="766" width="50" height="50" fill="#f6ecd3"/>
<rect x="446" y="766" width="50" height="50" fill="#abdfd7"/>
<rect x="496" y="766" width="50" height="50" fill="#7ccabe"/>
<rect x="546" y="766" width="50" height="50" fill="#d5edea"/>
<rect x="596" y="766" width="50" height="50" fill="#ddbe78"/>
<rect x="646" y="766" width="50" height="50" fill="#ddbe78"/>
<rect x="696" y="766" width="50" height="50" fill="#edd9a8"/>
<rect x="746" y="766" width="50" height="50" fill="#f6ecd3"/>
<rect x="796" y="766" width="50" height="50" fill="#d5edea"/>
<rect x="846" y="766" width="50" height="50" fill="#abdfd7"/>
<rect x="896" y="766" width="50" height="50" fill="#d5edea"/>
<rect x="946" y="766" width="50" height="50" fill="#f6ecd3"/>
<rect x="996" y="766" width="50" height="50" fill="#7ccabe"/>
<rect x="1046" y="766" width="50" height="50" fill="#1d8078"/>
<rect x="1096" y="766" width="50" height="50" fill="#edd9a8"/>
<rect x="1146" y="766" width="50" height="50" fill="#ddbe78"/>
<rect x="1196" y="766" width="50" height="50" fill="#c79040"/>
<rect x="1246" y="766" width="50" height="50" fill="#edd9a8"/>
<rect x="1296" y="766" width="50" height="50" fill="#d5edea"/>
<rect x="1346" y="766" width="50" height="50" fill="#abdfd7"/>
<rect x="1396" y="766" width="50" height="50" fill="#d5edea"/>
<rect x="1446" y="766" width="50" height="50" fill="#f4f5f5"/>
<rect x="1496" y="766" width="50" height="50" fill="#f6ecd3"/>
<rect x="1546" y="766" width="50" height="50" fill="#ddbe78"/>
<rect x="1596" y="766" width="50" height="50" fill="#f6ecd3"/>
<rect x="1646" y="766" width="50" height="50" fill="#f6ecd3"/>
<rect x="1696" y="766" width="50" height="50" fill="#f6ecd3"/>
<rect x="1746" y="766" width="50" height="50" fill="#d5edea"/>
<rect x="1796" y="766" width="50" height="50" fill="#e0f0ee"/>
<rect x="1846" y="766" width="50" height="50" fill="#d9eeeb"/>
<rect x="1896" y="766" width="50" height="50" fill="#dbefec"/>
<rect x="1946" y="766" width="50" height="50" fill="#d9eeeb"/>
<rect x="196" y="816" width="50" height="50" fill="#f4f5f5"/>
<rect x="246" y="816" width="50" height="50" fill="#f4f5f5"/>
<rect x="296" y="816" width="50" height="50" fill="#f4f5f5"/>
<rect x="346" y="816" width="50" height="50" fill="#f4f5f5"/>
<rect x="396" y="816" width="50" height="50" fill="#f6ecd3"/>
<rect x="446" y="816" width="50" height="50" fill="#abdfd7"/>
<rect x="496" y="816" width="50" height="50" fill="#7ccabe"/>
<rect x="546" y="816" width="50" height="50" fill="#d5edea"/>
<rect x="596" y="816" width="50" height="50" fill="#f6ecd3"/>
<rect x="646" y="816" width="50" height="50" fill="#edd9a8"/>
<rect x="696" y="816" width="50" height="50" fill="#f6ecd3"/>
<rect x="746" y="816" width="50" height="50" fill="#d5edea"/>
<rect x="796" y="816" width="50" height="50" fill="#ddbe78"/>
<rect x="846" y="816" width="50" height="50" fill="#a96c1e"/>
<rect x="896" y="816" width="50" height="50" fill="#ddbe78"/>
<rect x="946" y="816" width="50" height="50" fill="#f6ecd3"/>
<rect x="996" y="816" width="50" height="50" fill="#abdfd7"/>
<rect x="1046" y="816" width="50" height="50" fill="#d5edea"/>
<rect x="1096" y="816" width="50" height="50" fill="#f6ecd3"/>
<rect x="1146" y="816" width="50" height="50" fill="#edd9a8"/>
<rect x="1196" y="816" width="50" height="50" fill="#ddbe78"/>
<rect x="1246" y="816" width="50" height="50" fill="#ddbe78"/>
<rect x="1296" y="816" width="50" height="50" fill="#abdfd7"/>
<rect x="1346" y="816" width="50" height="50" fill="#7ccabe"/>
<rect x="1396" y="816" width="50" height="50" fill="#abdfd7"/>
<rect x="1446" y="816" width="50" height="50" fill="#7ccabe"/>
<rect x="1496" y="816" width="50" height="50" fill="#7ccabe"/>
<rect x="1546" y="816" width="50" height="50" fill="#d5edea"/>
<rect x="1596" y="816" width="50" height="50" fill="#f6ecd3"/>
<rect x="1646" y="816" width="50" height="50" fill="#f4f5f5"/>
<rect x="1696" y="816" width="50" height="50" fill="#abdfd7"/>
<rect x="1746" y="816" width="50" height="50" fill="#abdfd7"/>
<rect x="1796" y="816" width="50" height="50" fill="#abdfd7"/>
<rect x="1846" y="816" width="50" height="50" fill="#b9e4de"/>
<rect x="1896" y="816" width="50" height="50" fill="#bce5df"/>
<rect x="1946" y="816" width="50" height="50" fill="#bfe7e1"/>
<rect x="196" y="866" width="50" height="50" fill="#f4f5f5"/>
<rect x="246" y="866" width="50" height="50" fill="#f4f5f5"/>
<rect x="296" y="866" width="50" height="50" fill="#f4f5f5"/>
<rect x="346" y="866" width="50" height="50" fill="#f5efde"/>
<rect x="396" y="866" width="50" height="50" fill="#f6ecd3"/>
<rect x="446" y="866" width="50" height="50" fill="#7ccabe"/>
<rect x="496" y="866" width="50" height="50" fill="#abdfd7"/>
<rect x="546" y="866" width="50" height="50" fill="#d5edea"/>
<rect x="596" y="866" width="50" height="50" fill="#f6ecd3"/>
<rect x="646" y="866" width="50" height="50" fill="#d5edea"/>
<rect x="696" y="866" width="50" height="50" fill="#abdfd7"/>
<rect x="746" y="866" width="50" height="50" fill="#d5edea"/>
<rect x="796" y="866" width="50" height="50" fill="#f6ecd3"/>
<rect x="846" y="866" width="50" height="50" fill="#a96c1e"/>
<rect x="896" y="866" width="50" height="50" fill="#ddbe78"/>
<rect x="946" y="866" width="50" height="50" fill="#d5edea"/>
<rect x="996" y="866" width="50" height="50" fill="#f6ecd3"/>
<rect x="1046" y="866" width="50" height="50" fill="#edd9a8"/>
<rect x="1096" y="866" width="50" height="50" fill="#edd9a8"/>
<rect x="1146" y="866" width="50" height="50" fill="#edd9a8"/>
<rect x="1196" y="866" width="50" height="50" fill="#f6ecd3"/>
<rect x="1246" y="866" width="50" height="50" fill="#d5edea"/>
<rect x="1296" y="866" width="50" height="50" fill="#f6ecd3"/>
<rect x="1346" y="866" width="50" height="50" fill="#d5edea"/>
<rect x="1396" y="866" width="50" height="50" fill="#abdfd7"/>
<rect x="1446" y="866" width="50" height="50" fill="#47a49b"/>
<rect x="1496" y="866" width="50" height="50" fill="#7ccabe"/>
<rect x="1546" y="866" width="50" height="50" fill="#abdfd7"/>
<rect x="1596" y="866" width="50" height="50" fill="#abdfd7"/>
<rect x="1646" y="866" width="50" height="50" fill="#abdfd7"/>
<rect x="1696" y="866" width="50" height="50" fill="#abdfd7"/>
<rect x="1746" y="866" width="50" height="50" fill="#7ccabe"/>
<rect x="1796" y="866" width="50" height="50" fill="#92d4ca"/>
<rect x="1846" y="866" width="50" height="50" fill="#92d4ca"/>
<rect x="1896" y="866" width="50" height="50" fill="#9dd9d0"/>
<rect x="1946" y="866" width="50" height="50" fill="#a0dad1"/>
<rect x="196" y="916" width="50" height="50" fill="#f4f5f5"/>
<rect x="246" y="916" width="50" height="50" fill="#f4f5f5"/>
<rect x="296" y="916" width="50" height="50" fill="#f5f0e2"/>
<rect x="346" y="916" width="50" height="50" fill="#f6ecd3"/>
<rect x="396" y="916" width="50" height="50" fill="#b9e4de"/>
<rect x="446" y="916" width="50" height="50" fill="#47a49b"/>
<rect x="496" y="916" width="50" height="50" fill="#f6ecd3"/>
<rect x="546" y="916" width="50" height="50" fill="#f6ecd3"/>
<rect x="596" y="916" width="50" height="50" fill="#f4f5f5"/>
<rect x="646" y="916" width="50" height="50" fill="#d5edea"/>
<rect x="696" y="916" width="50" height="50" fill="#7ccabe"/>
<rect x="746" y="916" width="50" height="50" fill="#abdfd7"/>
<rect x="796" y="916" width="50" height="50" fill="#f6ecd3"/>
<rect x="846" y="916" width="50" height="50" fill="#edd9a8"/>
<rect x="896" y="916" width="50" height="50" fill="#f6ecd3"/>
<rect x="946" y="916" width="50" height="50" fill="#edd9a8"/>
<rect x="996" y="916" width="50" height="50" fill="#edd9a8"/>
<rect x="1046" y="916" width="50" height="50" fill="#f6ecd3"/>
<rect x="1096" y="916" width="50" height="50" fill="#edd9a8"/>
<rect x="1146" y="916" width="50" height="50" fill="#f6ecd3"/>
<rect x="1196" y="916" width="50" height="50" fill="#edd9a8"/>
<rect x="1246" y="916" width="50" height="50" fill="#f6ecd3"/>
<rect x="1296" y="916" width="50" height="50" fill="#c79040"/>
<rect x="1346" y="916" width="50" height="50" fill="#f6ecd3"/>
<rect x="1396" y="916" width="50" height="50" fill="#d5edea"/>
<rect x="1446" y="916" width="50" height="50" fill="#abdfd7"/>
<rect x="1496" y="916" width="50" height="50" fill="#7ccabe"/>
<rect x="1546" y="916" width="50" height="50" fill="#7ccabe"/>
<rect x="1596" y="916" width="50" height="50" fill="#47a49b"/>
<rect x="1646" y="916" width="50" height="50" fill="#abdfd7"/>
<rect x="1696" y="916" width="50" height="50" fill="#d5edea"/>
<rect x="1746" y="916" width="50" height="50" fill="#a0dad1"/>
<rect x="1796" y="916" width="50" height="50" fill="#7ccabe"/>
<rect x="1846" y="916" width="50" height="50" fill="#87d0c5"/>
<rect x="1896" y="916" width="50" height="50" fill="#87d0c5"/>
<rect x="1946" y="916" width="50" height="50" fill="#8dd2c7"/>
<rect x="196" y="966" width="50" height="50" fill="#f4f5f5"/>
<rect x="246" y="966" width="50" height="50" fill="#f5f0e2"/>
<rect x="296" y="966" width="50" height="50" fill="#f6ecd3"/>
<rect x="346" y="966" width="50" height="50" fill="#d4ede9"/>
<rect x="396" y="966" width="50" height="50" fill="#92d4ca"/>
<rect x="446" y="966" width="50" height="50" fill="#d5edea"/>
<rect x="496" y="966" width="50" height="50" fill="#abdfd7"/>
<rect x="546" y="966" width="50" height="50" fill="#abdfd7"/>
<rect x="596" y="966" width="50" height="50" fill="#d5edea"/>
<rect x="646" y="966" width="50" height="50" fill="#abdfd7"/>
<rect x="696" y="966" width="50" height="50" fill="#47a49b"/>
<rect x="746" y="966" width="50" height="50" fill="#47a49b"/>
<rect x="796" y="966" width="50" height="50" fill="#f4f5f5"/>
<rect x="846" y="966" width="50" height="50" fill="#f6ecd3"/>
<rect x="896" y="966" width="50" height="50" fill="#edd9a8"/>
<rect x="946" y="966" width="50" height="50" fill="#a96c1e"/>
<rect x="996" y="966" width="50" height="50" fill="#f6ecd3"/>
<rect x="1046" y="966" width="50" height="50" fill="#abdfd7"/>
<rect x="1096" y="966" width="50" height="50" fill="#d5edea"/>
<rect x="1146" y="966" width="50" height="50" fill="#edd9a8"/>
<rect x="1196" y="966" width="50" height="50" fill="#f6ecd3"/>
<rect x="1246" y="966" width="50" height="50" fill="#d5edea"/>
<rect x="1296" y="966" width="50" height="50" fill="#f4f5f5"/>
<rect x="1346" y="966" width="50" height="50" fill="#d5edea"/>
<rect x="1396" y="966" width="50" height="50" fill="#d5edea"/>
<rect x="1446" y="966" width="50" height="50" fill="#f4f5f5"/>
<rect x="1496" y="966" width="50" height="50" fill="#abdfd7"/>
<rect x="1546" y="966" width="50" height="50" fill="#d5edea"/>
<rect x="1596" y="966" width="50" height="50" fill="#f4f5f5"/>
<rect x="1646" y="966" width="50" height="50" fill="#7ccabe"/>
<rect x="1696" y="966" width="50" height="50" fill="#7ccabe"/>
<rect x="1746" y="966" width="50" height="50" fill="#abdfd7"/>
<rect x="1796" y="966" width="50" height="50" fill="#8fd3c9"/>
<rect x="1846" y="966" width="50" height="50" fill="#7ccabe"/>
<rect x="1896" y="966" width="50" height="50" fill="#81cec2"/>
<rect x="1946" y="966" width="50" height="50" fill="#81cec2"/>
<rect x="196" y="1016" width="50" height="50" fill="#f5f1e4"/>
<rect x="246" y="1016" width="50" height="50" fill="#f6ecd3"/>
<rect x="296" y="1016" width="50" height="50" fill="#def0ed"/>
<rect x="346" y="1016" width="50" height="50" fill="#b9e4de"/>
<rect x="396" y="1016" width="50" height="50" fill="#d5edea"/>
<rect x="446" y="1016" width="50" height="50" fill="#e0f0ee"/>
<rect x="496" y="1016" width="50" height="50" fill="#f6ecd3"/>
<rect x="546" y="1016" width="50" height="50" fill="#f6ecd3"/>
<rect x="596" y="1016" width="50" height="50" fill="#d5edea"/>
<rect x="646" y="1016" width="50" height="50" fill="#f6ecd3"/>
<rect x="696" y="1016" width="50" height="50" fill="#d5edea"/>
<rect x="746" y="1016" width="50" height="50" fill="#abdfd7"/>
<rect x="796" y="1016" width="50" height="50" fill="#abdfd7"/>
<rect x="846" y="1016" width="50" height="50" fill="#7ccabe"/>
<rect x="896" y="1016" width="50" height="50" fill="#d5edea"/>
<rect x="946" y="1016" width="50" height="50" fill="#d5edea"/>
<rect x="996" y="1016" width="50" height="50" fill="#abdfd7"/>
<rect x="1046" y="1016" width="50" height="50" fill="#d5edea"/>
<rect x="1096" y="1016" width="50" height="50" fill="#edd9a8"/>
<rect x="1146" y="1016" width="50" height="50" fill="#f6ecd3"/>
<rect x="1196" y="1016" width="50" height="50" fill="#d5edea"/>
<rect x="1246" y="1016" width="50" height="50" fill="#abdfd7"/>
<rect x="1296" y="1016" width="50" height="50" fill="#abdfd7"/>
<rect x="1346" y="1016" width="50" height="50" fill="#abdfd7"/>
<rect x="1396" y="1016" width="50" height="50" fill="#d5edea"/>
<rect x="1446" y="1016" width="50" height="50" fill="#f6ecd3"/>
<rect x="1496" y="1016" width="50" height="50" fill="#f4f5f5"/>
<rect x="1546" y="1016" width="50" height="50" fill="#d5edea"/>
<rect x="1596" y="1016" width="50" height="50" fill="#47a49b"/>
<rect x="1646" y="1016" width="50" height="50" fill="#1d8078"/>
<rect x="1696" y="1016" width="50" height="50" fill="#52aca3"/>
<rect x="1746" y="1016" width="50" height="50" fill="#7ccabe"/>
<rect x="1796" y="1016" width="50" height="50" fill="#92d4ca"/>
<rect x="1846" y="1016" width="50" height="50" fill="#87d0c5"/>
<rect x="1896" y="1016" width="50" height="50" fill="#7ccabe"/>
<rect x="1946" y="1016" width="50" height="50" fill="#7fccc0"/>
<rect x="196" y="1066" width="50" height="50" fill="#f6ecd3"/>
<rect x="246" y="1066" width="50" height="50" fill="#e4f1ef"/>
<rect x="296" y="1066" width="50" height="50" fill="#c9eae6"/>
<rect x="346" y="1066" width="50" height="50" fill="#d5edea"/>
<rect x="396" y="1066" width="50" height="50" fill="#eff3f3"/>
<rect x="446" y="1066" width="50" height="50" fill="#f6ecd3"/>
<rect x="496" y="1066" width="50" height="50" fill="#f6ecd3"/>
<rect x="546" y="1066" width="50" height="50" fill="#f6ecd3"/>
<rect x="596" y="1066" width="50" height="50" fill="#f6ecd3"/>
<rect x="646" y="1066" width="50" height="50" fill="#f6ecd3"/>
<rect x="696" y="1066" width="50" height="50" fill="#f6ecd3"/>
<rect x="746" y="1066" width="50" height="50" fill="#d5edea"/>
<rect x="796" y="1066" width="50" height="50" fill="#7ccabe"/>
<rect x="846" y="1066" width="50" height="50" fill="#7ccabe"/>
<rect x="896" y="1066" width="50" height="50" fill="#47a49b"/>
<rect x="946" y="1066" width="50" height="50" fill="#7ccabe"/>
<rect x="996" y="1066" width="50" height="50" fill="#abdfd7"/>
<rect x="1046" y="1066" width="50" height="50" fill="#d5edea"/>
<rect x="1096" y="1066" width="50" height="50" fill="#d5edea"/>
<rect x="1146" y="1066" width="50" height="50" fill="#f6ecd3"/>
<rect x="1196" y="1066" width="50" height="50" fill="#edd9a8"/>
<rect x="1246" y="1066" width="50" height="50" fill="#d5edea"/>
<rect x="1296" y="1066" width="50" height="50" fill="#f6ecd3"/>
<rect x="1346" y="1066" width="50" height="50" fill="#f6ecd3"/>
<rect x="1396" y="1066" width="50" height="50" fill="#f6ecd3"/>
<rect x="1446" y="1066" width="50" height="50" fill="#f4f5f5"/>
<rect x="1496" y="1066" width="50" height="50" fill="#f6ecd3"/>
<rect x="1546" y="1066" width="50" height="50" fill="#d5edea"/>
<rect x="1596" y="1066" width="50" height="50" fill="#abdfd7"/>
<rect x="1646" y="1066" width="50" height="50" fill="#47a49b"/>
<rect x="1696" y="1066" width="50" height="50" fill="#47a49b"/>
<rect x="1746" y="1066" width="50" height="50" fill="#64b9ae"/>
<rect x="1796" y="1066" width="50" height="50" fill="#7ccabe"/>
<rect x="1846" y="1066" width="50" height="50" fill="#87d0c5"/>
<rect x="1896" y="1066" width="50" height="50" fill="#81cec2"/>
<rect x="1946" y="1066" width="50" height="50" fill="#7ccabe"/>
<rect x="246" y="1116" width="50" height="50" fill="#d0ece8"/>
<rect x="296" y="1116" width="50" height="50" fill="#d5edea"/>
<rect x="346" y="1116" width="50" height="50" fill="#f2f4f4"/>
<rect x="396" y="1116" width="50" height="50" fill="#f6ecd3"/>
<rect x="446" y="1116" width="50" height="50" fill="#f6ecd3"/>
<rect x="496" y="1116" width="50" height="50" fill="#f6ecd3"/>
<rect x="546" y="1116" width="50" height="50" fill="#f6ecd3"/>
<rect x="596" y="1116" width="50" height="50" fill="#f6ecd3"/>
<rect x="646" y="1116" width="50" height="50" fill="#edd9a8"/>
<rect x="696" y="1116" width="50" height="50" fill="#f6ecd3"/>
<rect x="746" y="1116" width="50" height="50" fill="#f6ecd3"/>
<rect x="796" y="1116" width="50" height="50" fill="#7ccabe"/>
<rect x="846" y="1116" width="50" height="50" fill="#1d8078"/>
<rect x="896" y="1116" width="50" height="50" fill="#47a49b"/>
<rect x="946" y="1116" width="50" height="50" fill="#1d8078"/>
<rect x="996" y="1116" width="50" height="50" fill="#47a49b"/>
<rect x="1046" y="1116" width="50" height="50" fill="#abdfd7"/>
<rect x="1096" y="1116" width="50" height="50" fill="#7ccabe"/>
<rect x="1146" y="1116" width="50" height="50" fill="#d5edea"/>
<rect x="1196" y="1116" width="50" height="50" fill="#f6ecd3"/>
<rect x="1246" y="1116" width="50" height="50" fill="#f6ecd3"/>
<rect x="1296" y="1116" width="50" height="50" fill="#f6ecd3"/>
<rect x="1346" y="1116" width="50" height="50" fill="#ddbe78"/>
<rect x="1396" y="1116" width="50" height="50" fill="#d5edea"/>
<rect x="1446" y="1116" width="50" height="50" fill="#f4f5f5"/>
<rect x="1496" y="1116" width="50" height="50" fill="#d5edea"/>
<rect x="1546" y="1116" width="50" height="50" fill="#7ccabe"/>
<rect x="1596" y="1116" width="50" height="50" fill="#d5edea"/>
<rect x="1646" y="1116" width="50" height="50" fill="#7ccabe"/>
<rect x="1696" y="1116" width="50" height="50" fill="#7ccabe"/>
<rect x="1746" y="1116" width="50" height="50" fill="#76c6ba"/>
<rect x="1796" y="1116" width="50" height="50" fill="#7ccabe"/>
<rect x="1846" y="1116" width="50" height="50" fill="#7ccabe"/>
<rect x="1896" y="1116" width="50" height="50" fill="#81cec2"/>
<rect x="246" y="1166" width="50" height="50" fill="#d5edea"/>
<rect x="296" y="1166" width="50" height="50" fill="#f4f5f5"/>
<rect x="346" y="1166" width="50" height="50" fill="#f6ecd3"/>
<rect x="396" y="1166" width="50" height="50" fill="#f6ecd3"/>
<rect x="446" y="1166" width="50" height="50" fill="#f6ecd3"/>
<rect x="496" y="1166" width="50" height="50" fill="#f6ecd3"/>
<rect x="546" y="1166" width="50" height="50" fill="#f6ecd3"/>
<rect x="596" y="1166" width="50" height="50" fill="#e1c684"/>
<rect x="646" y="1166" width="50" height="50" fill="#c79040"/>
<rect x="696" y="1166" width="50" height="50" fill="#f6ecd3"/>
<rect x="746" y="1166" width="50" height="50" fill="#f6ecd3"/>
<rect x="796" y="1166" width="50" height="50" fill="#d5edea"/>
<rect x="846" y="1166" width="50" height="50" fill="#7ccabe"/>
<rect x="896" y="1166" width="50" height="50" fill="#1d8078"/>
<rect x="946" y="1166" width="50" height="50" fill="#7ccabe"/>
<rect x="996" y="1166" width="50" height="50" fill="#abdfd7"/>
<rect x="1046" y="1166" width="50" height="50" fill="#d5edea"/>
<rect x="1096" y="1166" width="50" height="50" fill="#abdfd7"/>
<rect x="1146" y="1166" width="50" height="50" fill="#1d8078"/>
<rect x="1196" y="1166" width="50" height="50" fill="#f4f5f5"/>
<rect x="1246" y="1166" width="50" height="50" fill="#d5edea"/>
<rect x="1296" y="1166" width="50" height="50" fill="#f6ecd3"/>
<rect x="1346" y="1166" width="50" height="50" fill="#f6ecd3"/>
<rect x="1396" y="1166" width="50" height="50" fill="#f6ecd3"/>
<rect x="1446" y="1166" width="50" height="50" fill="#abdfd7"/>
<rect x="1496" y="1166" width="50" height="50" fill="#f6ecd3"/>
<rect x="1546" y="1166" width="50" height="50" fill="#f6ecd3"/>
<rect x="1596" y="1166" width="50" height="50" fill="#d5edea"/>
<rect x="1646" y="1166" width="50" height="50" fill="#abdfd7"/>
<rect x="1696" y="1166" width="50" height="50" fill="#9ad8ce"/>
<rect x="1746" y="1166" width="50" height="50" fill="#95d6cc"/>
<rect x="1796" y="1166" width="50" height="50" fill="#92d4ca"/>
<rect x="1846" y="1166" width="50" height="50" fill="#8ad1c6"/>
<rect x="1896" y="1166" width="50" height="50" fill="#7ccabe"/>
<rect x="296" y="1216" width="50" height="50" fill="#f6ecd3"/>
<rect x="346" y="1216" width="50" height="50" fill="#f6ecd3"/>
<rect x="396" y="1216" width="50" height="50" fill="#f6ecd3"/>
<rect x="446" y="1216" width="50" height="50" fill="#f6ecd3"/>
<rect x="496" y="1216" width="50" height="50" fill="#f6ecd3"/>
<rect x="546" y="1216" width="50" height="50" fill="#dec17b"/>
<rect x="596" y="1216" width="50" height="50" fill="#c79040"/>
<rect x="646" y="1216" width="50" height="50" fill="#c79040"/>
<rect x="696" y="1216" width="50" height="50" fill="#f6ecd3"/>
<rect x="746" y="1216" width="50" height="50" fill="#f6ecd3"/>
<rect x="796" y="1216" width="50" height="50" fill="#d5edea"/>
<rect x="846" y="1216" width="50" height="50" fill="#7ccabe"/>
<rect x="896" y="1216" width="50" height="50" fill="#47a49b"/>
<rect x="946" y="1216" width="50" height="50" fill="#f6ecd3"/>
<rect x="996" y="1216" width="50" height="50" fill="#edd9a8"/>
<rect x="1046" y="1216" width="50" height="50" fill="#f6ecd3"/>
<rect x="1096" y="1216" width="50" height="50" fill="#f4f5f5"/>
<rect x="1146" y="1216" width="50" height="50" fill="#d5edea"/>
<rect x="1196" y="1216" width="50" height="50" fill="#f4f5f5"/>
<rect x="1246" y="1216" width="50" height="50" fill="#f6ecd3"/>
<rect x="1296" y="1216" width="50" height="50" fill="#d5edea"/>
<rect x="1346" y="1216" width="50" height="50" fill="#abdfd7"/>
<rect x="1396" y="1216" width="50" height="50" fill="#f6ecd3"/>
<rect x="1446" y="1216" width="50" height="50" fill="#f6ecd3"/>
<rect x="1496" y="1216" width="50" height="50" fill="#f4f5f5"/>
<rect x="1546" y="1216" width="50" height="50" fill="#f6ecd3"/>
<rect x="1596" y="1216" width="50" height="50" fill="#d5edea"/>
<rect x="1646" y="1216" width="50" height="50" fill="#abdfd7"/>
<rect x="1696" y="1216" width="50" height="50" fill="#abdfd7"/>
<rect x="1746" y="1216" width="50" height="50" fill="#a6dcd4"/>
<rect x="1796" y="1216" width="50" height="50" fill="#a3dbd3"/>
<rect x="1846" y="1216" width="50" height="50" fill="#a0dad1"/>
<rect x="346" y="1266" width="50" height="50" fill="#f6ecd3"/>
<rect x="396" y="1266" width="50" height="50" fill="#f6ecd3"/>
<rect x="446" y="1266" width="50" height="50" fill="#f6ecd3"/>
<rect x="496" y="1266" width="50" height="50" fill="#dfc37e"/>
<rect x="546" y="1266" width="50" height="50" fill="#c99546"/>
<rect x="596" y="1266" width="50" height="50" fill="#c79040"/>
<rect x="646" y="1266" width="50" height="50" fill="#c79040"/>
<rect x="696" y="1266" width="50" height="50" fill="#edd9a8"/>
<rect x="746" y="1266" width="50" height="50" fill="#ddbe78"/>
<rect x="796" y="1266" width="50" height="50" fill="#f6ecd3"/>
<rect x="846" y="1266" width="50" height="50" fill="#abdfd7"/>
<rect x="896" y="1266" width="50" height="50" fill="#7ccabe"/>
<rect x="946" y="1266" width="50" height="50" fill="#f6ecd3"/>
<rect x="996" y="1266" width="50" height="50" fill="#edd9a8"/>
<rect x="1046" y="1266" width="50" height="50" fill="#f6ecd3"/>
<rect x="1096" y="1266" width="50" height="50" fill="#f4f5f5"/>
<rect x="1146" y="1266" width="50" height="50" fill="#f6ecd3"/>
<rect x="1196" y="1266" width="50" height="50" fill="#f6ecd3"/>
<rect x="1246" y="1266" width="50" height="50" fill="#d5edea"/>
<rect x="1296" y="1266" width="50" height="50" fill="#47a49b"/>
<rect x="1346" y="1266" width="50" height="50" fill="#abdfd7"/>
<rect x="1396" y="1266" width="50" height="50" fill="#d5edea"/>
<rect x="1446" y="1266" width="50" height="50" fill="#f6ecd3"/>
<rect x="1496" y="1266" width="50" height="50" fill="#f6ecd3"/>
<rect x="1546" y="1266" width="50" height="50" fill="#f6ecd3"/>
<rect x="1596" y="1266" width="50" height="50" fill="#d5edea"/>
<rect x="1646" y="1266" width="50" height="50" fill="#cbebe6"/>
<rect x="1696" y="1266" width="50" height="50" fill="#abdfd7"/>
<rect x="1746" y="1266" width="50" height="50" fill="#abdfd7"/>
<rect x="1796" y="1266" width="50" height="50" fill="#abdfd7"/>
<rect x="1846" y="1266" width="50" height="50" fill="#a8ddd5"/>
<rect x="396" y="1316" width="50" height="50" fill="#f6ecd1"/>
<rect x="446" y="1316" width="50" height="50" fill="#f6ecd3"/>
<rect x="496" y="1316" width="50" height="50" fill="#e2c787"/>
<rect x="546" y="1316" width="50" height="50" fill="#d1a559"/>
<rect x="596" y="1316" width="50" height="50" fill="#cea053"/>
<rect x="646" y="1316" width="50" height="50" fill="#c79040"/>
<rect x="696" y="1316" width="50" height="50" fill="#edd9a8"/>
<rect x="746" y="1316" width="50" height="50" fill="#ddbe78"/>
<rect x="796" y="1316" width="50" height="50" fill="#abdfd7"/>
<rect x="846" y="1316" width="50" height="50" fill="#abdfd7"/>
<rect x="896" y="1316" width="50" height="50" fill="#f6ecd3"/>
<rect x="946" y="1316" width="50" height="50" fill="#f6ecd3"/>
<rect x="996" y="1316" width="50" height="50" fill="#d5edea"/>
<rect x="1046" y="1316" width="50" height="50" fill="#abdfd7"/>
<rect x="1096" y="1316" width="50" height="50" fill="#7ccabe"/>
<rect x="1146" y="1316" width="50" height="50" fill="#f6ecd3"/>
<rect x="1196" y="1316" width="50" height="50" fill="#edd9a8"/>
<rect x="1246" y="1316" width="50" height="50" fill="#ddbe78"/>
<rect x="1296" y="1316" width="50" height="50" fill="#edd9a8"/>
<rect x="1346" y="1316" width="50" height="50" fill="#edd9a8"/>
<rect x="1396" y="1316" width="50" height="50" fill="#d5edea"/>
<rect x="1446" y="1316" width="50" height="50" fill="#f6ecd3"/>
<rect x="1496" y="1316" width="50" height="50" fill="#f6ecd3"/>
<rect x="1546" y="1316" width="50" height="50" fill="#f5f1e4"/>
<rect x="1596" y="1316" width="50" height="50" fill="#f4f5f5"/>
<rect x="1646" y="1316" width="50" height="50" fill="#d5edea"/>
<rect x="1696" y="1316" width="50" height="50" fill="#c7eae5"/>
<rect x="1746" y="1316" width="50" height="50" fill="#abdfd7"/>
<rect x="1796" y="1316" width="50" height="50" fill="#abdfd7"/>
<rect x="1846" y="1316" width="50" height="50" fill="#abdfd7"/>
<rect x="396" y="1366" width="50" height="50" fill="#f6ebcf"/>
<rect x="446" y="1366" width="50" height="50" fill="#f6ebcf"/>
<rect x="496" y="1366" width="50" height="50" fill="#f6ecd3"/>
<rect x="546" y="1366" width="50" height="50" fill="#e8d097"/>
<rect x="596" y="1366" width="50" height="50" fill="#ddbe78"/>
<rect x="646" y="1366" width="50" height="50" fill="#ddbe78"/>
<rect x="696" y="1366" width="50" height="50" fill="#edd9a8"/>
<rect x="746" y="1366" width="50" height="50" fill="#d5edea"/>
<rect x="796" y="1366" width="50" height="50" fill="#d5edea"/>
<rect x="846" y="1366" width="50" height="50" fill="#abdfd7"/>
<rect x="896" y="1366" width="50" height="50" fill="#d5edea"/>
<rect x="946" y="1366" width="50" height="50" fill="#f6ecd3"/>
<rect x="996" y="1366" width="50" height="50" fill="#abdfd7"/>
<rect x="1046" y="1366" width="50" height="50" fill="#7ccabe"/>
<rect x="1096" y="1366" width="50" height="50" fill="#abdfd7"/>
<rect x="1146" y="1366" width="50" height="50" fill="#f6ecd3"/>
<rect x="1196" y="1366" width="50" height="50" fill="#ddbe78"/>
<rect x="1246" y="1366" width="50" height="50" fill="#ddbe78"/>
<rect x="1296" y="1366" width="50" height="50" fill="#edd9a8"/>
<rect x="1346" y="1366" width="50" height="50" fill="#edd9a8"/>
<rect x="1396" y="1366" width="50" height="50" fill="#edd9a8"/>
<rect x="1446" y="1366" width="50" height="50" fill="#f6eedb"/>
<rect x="1496" y="1366" width="50" height="50" fill="#f6ecd3"/>
<rect x="1546" y="1366" width="50" height="50" fill="#f6ecd3"/>
<rect x="1596" y="1366" width="50" height="50" fill="#f5f4f0"/>
<rect x="1646" y="1366" width="50" height="50" fill="#e6f1f0"/>
<rect x="1696" y="1366" width="50" height="50" fill="#d5edea"/>
<rect x="1746" y="1366" width="50" height="50" fill="#c4e9e4"/>
<rect x="1796" y="1366" width="50" height="50" fill="#abdfd7"/>
<rect x="1846" y="1366" width="50" height="50" fill="#abdfd7"/>
<rect x="396" y="1416" width="50" height="50" fill="#f6eac9"/>
<rect x="446" y="1416" width="50" height="50" fill="#f6eacb"/>
<rect x="496" y="1416" width="50" height="50" fill="#f6eacb"/>
<rect x="546" y="1416" width="50" height="50" fill="#f6ecd3"/>
<rect x="596" y="1416" width="50" height="50" fill="#f1e1b5"/>
<rect x="646" y="1416" width="50" height="50" fill="#edd9a8"/>
<rect x="696" y="1416" width="50" height="50" fill="#edd9a8"/>
<rect x="746" y="1416" width="50" height="50" fill="#f6ecd3"/>
<rect x="796" y="1416" width="50" height="50" fill="#d5edea"/>
<rect x="846" y="1416" width="50" height="50" fill="#d5edea"/>
<rect x="896" y="1416" width="50" height="50" fill="#d5edea"/>
<rect x="946" y="1416" width="50" height="50" fill="#f6ecd3"/>
<rect x="996" y="1416" width="50" height="50" fill="#f6ecd3"/>
<rect x="1046" y="1416" width="50" height="50" fill="#f6ecd3"/>
<rect x="1096" y="1416" width="50" height="50" fill="#f6ecd3"/>
<rect x="1146" y="1416" width="50" height="50" fill="#edd9a8"/>
<rect x="1196" y="1416" width="50" height="50" fill="#edd9a8"/>
<rect x="1246" y="1416" width="50" height="50" fill="#ddbe78"/>
<rect x="1296" y="1416" width="50" height="50" fill="#edd9a8"/>
<rect x="1346" y="1416" width="50" height="50" fill="#ddbe78"/>
<rect x="1396" y="1416" width="50" height="50" fill="#e6cd92"/>
<rect x="1446" y="1416" width="50" height="50" fill="#edd9a8"/>
<rect x="1496" y="1416" width="50" height="50" fill="#f6ebcd"/>
<rect x="1546" y="1416" width="50" height="50" fill="#f6ecd3"/>
<rect x="1596" y="1416" width="50" height="50" fill="#f6ecd3"/>
<rect x="1646" y="1416" width="50" height="50" fill="#f2f4f4"/>
<rect x="1696" y="1416" width="50" height="50" fill="#ddefed"/>
<rect x="1746" y="1416" width="50" height="50" fill="#d5edea"/>
<rect x="1796" y="1416" width="50" height="50" fill="#c4e9e4"/>
<rect x="1846" y="1416" width="50" height="50" fill="#abdfd7"/>
<rect x="396" y="1466" width="50" height="50" fill="#f6e9c7"/>
<rect x="446" y="1466" width="50" height="50" fill="#f6e8c3"/>
<rect x="496" y="1466" width="50" height="50" fill="#f5e7c0"/>
<rect x="546" y="1466" width="50" height="50" fill="#f5e7c0"/>
<rect x="596" y="1466" width="50" height="50" fill="#f6ecd3"/>
<rect x="646" y="1466" width="50" height="50" fill="#f6ecd3"/>
<rect x="696" y="1466" width="50" height="50" fill="#edd9a8"/>
<rect x="746" y="1466" width="50" height="50" fill="#d5edea"/>
<rect x="796" y="1466" width="50" height="50" fill="#d5edea"/>
<rect x="846" y="1466" width="50" height="50" fill="#abdfd7"/>
<rect x="896" y="1466" width="50" height="50" fill="#abdfd7"/>
<rect x="946" y="1466" width="50" height="50" fill="#f4f5f5"/>
<rect x="996" y="1466" width="50" height="50" fill="#f6ecd3"/>
<rect x="1046" y="1466" width="50" height="50" fill="#f6ecd3"/>
<rect x="1096" y="1466" width="50" height="50" fill="#edd9a8"/>
<rect x="1146" y="1466" width="50" height="50" fill="#edd9a8"/>
<rect x="1196" y="1466" width="50" height="50" fill="#edd9a8"/>
<rect x="1246" y="1466" width="50" height="50" fill="#edd9a8"/>
<rect x="1296" y="1466" width="50" height="50" fill="#edd9a8"/>
<rect x="1346" y="1466" width="50" height="50" fill="#ddbe78"/>
<rect x="1396" y="1466" width="50" height="50" fill="#ddbe78"/>
<rect x="1446" y="1466" width="50" height="50" fill="#e3c989"/>
<rect x="1496" y="1466" width="50" height="50" fill="#edd9a8"/>
<rect x="1546" y="1466" width="50" height="50" fill="#f6eac9"/>
<rect x="1596" y="1466" width="50" height="50" fill="#f6ecd3"/>
<rect x="1646" y="1466" width="50" height="50" fill="#f6ecd3"/>
<rect x="1696" y="1466" width="50" height="50" fill="#eff3f3"/>
<rect x="1746" y="1466" width="50" height="50" fill="#d9eeeb"/>
<rect x="1796" y="1466" width="50" height="50" fill="#d5edea"/>
<rect x="396" y="1516" width="50" height="50" fill="#f6ecd3"/>
<rect x="446" y="1516" width="50" height="50" fill="#f6eac9"/>
<rect x="496" y="1516" width="50" height="50" fill="#f3e4bb"/>
<rect x="546" y="1516" width="50" height="50" fill="#edd9a8"/>
<rect x="596" y="1516" width="50" height="50" fill="#edd9a8"/>
<rect x="646" y="1516" width="50" height="50" fill="#ddbe78"/>
<rect x="696" y="1516" width="50" height="50" fill="#ddbe78"/>
<rect x="746" y="1516" width="50" height="50" fill="#d5edea"/>
<rect x="796" y="1516" width="50" height="50" fill="#d5edea"/>
<rect x="846" y="1516" width="50" height="50" fill="#abdfd7"/>
<rect x="896" y="1516" width="50" height="50" fill="#d5edea"/>
<rect x="946" y="1516" width="50" height="50" fill="#f6ecd3"/>
<rect x="996" y="1516" width="50" height="50" fill="#f4f5f5"/>
<rect x="1046" y="1516" width="50" height="50" fill="#f6ecd3"/>
<rect x="1096" y="1516" width="50" height="50" fill="#edd9a8"/>
<rect x="1146" y="1516" width="50" height="50" fill="#edd9a8"/>
<rect x="1196" y="1516" width="50" height="50" fill="#f6ecd3"/>
<rect x="1246" y="1516" width="50" height="50" fill="#edd9a8"/>
<rect x="1296" y="1516" width="50" height="50" fill="#edd9a8"/>
<rect x="1346" y="1516" width="50" height="50" fill="#f1e1b5"/>
<rect x="1396" y="1516" width="50" height="50" fill="#ddbe78"/>
<rect x="1446" y="1516" width="50" height="50" fill="#ddbe78"/>
<rect x="1496" y="1516" width="50" height="50" fill="#e3c989"/>
<rect x="1546" y="1516" width="50" height="50" fill="#edd9a8"/>
<rect x="1596" y="1516" width="50" height="50" fill="#f6e9c7"/>
<rect x="1646" y="1516" width="50" height="50" fill="#f6ecd3"/>
<rect x="1696" y="1516" width="50" height="50" fill="#f6ecd3"/>
<rect x="346" y="1566" width="50" height="50" fill="#016058"/>
<rect x="396" y="1566" width="50" height="50" fill="#b6e3dd"/>
<rect x="446" y="1566" width="50" height="50" fill="#f5f3ec"/>
<rect x="496" y="1566" width="50" height="50" fill="#f5efde"/>
<rect x="546" y="1566" width="50" height="50" fill="#f6e9c7"/>
<rect x="596" y="1566" width="50" height="50" fill="#ddbe78"/>
<rect x="646" y="1566" width="50" height="50" fill="#ddbe78"/>
<rect x="696" y="1566" width="50" height="50" fill="#ddbe78"/>
<rect x="746" y="1566" width="50" height="50" fill="#f6ecd3"/>
<rect x="796" y="1566" width="50" height="50" fill="#d5edea"/>
<rect x="846" y="1566" width="50" height="50" fill="#abdfd7"/>
<rect x="896" y="1566" width="50" height="50" fill="#d5edea"/>
<rect x="946" y="1566" width="50" height="50" fill="#f6ecd3"/>
<rect x="996" y="1566" width="50" height="50" fill="#f4f5f5"/>
<rect x="1046" y="1566" width="50" height="50" fill="#f6ecd3"/>
<rect x="1096" y="1566" width="50" height="50" fill="#f6ecd3"/>
<rect x="1146" y="1566" width="50" height="50" fill="#f6ecd3"/>
<rect x="1196" y="1566" width="50" height="50" fill="#f6ecd3"/>
<rect x="1246" y="1566" width="50" height="50" fill="#f6ecd3"/>
<rect x="1296" y="1566" width="50" height="50" fill="#f4f5f5"/>
<rect x="1346" y="1566" width="50" height="50" fill="#f6ecd3"/>
<rect x="1396" y="1566" width="50" height="50" fill="#f6e8c3"/>
<rect x="1446" y="1566" width="50" height="50" fill="#ddbe78"/>
<rect x="1496" y="1566" width="50" height="50" fill="#ddbe78"/>
<rect x="1546" y="1566" width="50" height="50" fill="#e3c989"/>
<rect x="1596" y="1566" width="50" height="50" fill="#edd9a8"/>
<rect x="346" y="1616" width="50" height="50" fill="#016058"/>
<rect x="396" y="1616" width="50" height="50" fill="#016058"/>
<rect x="446" y="1616" width="50" height="50" fill="#84cfc3"/>
<rect x="496" y="1616" width="50" height="50" fill="#c7eae5"/>
<rect x="546" y="1616" width="50" height="50" fill="#cbebe6"/>
<rect x="596" y="1616" width="50" height="50" fill="#d5edea"/>
<rect x="646" y="1616" width="50" height="50" fill="#f4f5f5"/>
<rect x="696" y="1616" width="50" height="50" fill="#d5edea"/>
<rect x="746" y="1616" width="50" height="50" fill="#f4f5f5"/>
<rect x="796" y="1616" width="50" height="50" fill="#f4f5f5"/>
<rect x="846" y="1616" width="50" height="50" fill="#abdfd7"/>
<rect x="896" y="1616" width="50" height="50" fill="#f4f5f5"/>
<rect x="946" y="1616" width="50" height="50" fill="#f4f5f5"/>
<rect x="996" y="1616" width="50" height="50" fill="#f4f5f5"/>
<rect x="1046" y="1616" width="50" height="50" fill="#f4f5f5"/>
<rect x="1096" y="1616" width="50" height="50" fill="#d5edea"/>
<rect x="1146" y="1616" width="50" height="50" fill="#f4f5f5"/>
<rect x="1196" y="1616" width="50" height="50" fill="#abdfd7"/>
<rect x="1246" y="1616" width="50" height="50" fill="#f4f5f5"/>
<rect x="1296" y="1616" width="50" height="50" fill="#f5f1e4"/>
<rect x="1346" y="1616" width="50" height="50" fill="#f4f5f5"/>
<rect x="1396" y="1616" width="50" height="50" fill="#f5f1e4"/>
<rect x="1446" y="1616" width="50" height="50" fill="#f6eacb"/>
<rect x="1496" y="1616" width="50" height="50" fill="#ddbe78"/>
<rect x="1546" y="1616" width="50" height="50" fill="#ddbe78"/>
<rect x="346" y="1666" width="50" height="50" fill="#016058"/>
<rect x="396" y="1666" width="50" height="50" fill="#016058"/>
<rect x="446" y="1666" width="50" height="50" fill="#016058"/>
<rect x="496" y="1666" width="50" height="50" fill="#33958d"/>
<rect x="546" y="1666" width="50" height="50" fill="#35978f"/>
<rect x="596" y="1666" width="50" height="50" fill="#016058"/>
<rect x="646" y="1666" width="50" height="50" fill="#1d8078"/>
<rect x="696" y="1666" width="50" height="50" fill="#f4f5f5"/>
<rect x="746" y="1666" width="50" height="50" fill="#d5edea"/>
<rect x="796" y="1666" width="50" height="50" fill="#d5edea"/>
<rect x="846" y="1666" width="50" height="50" fill="#abdfd7"/>
<rect x="896" y="1666" width="50" height="50" fill="#f4f5f5"/>
<rect x="946" y="1666" width="50" height="50" fill="#f4f5f5"/>
<rect x="996" y="1666" width="50" height="50" fill="#f4f5f5"/>
<rect x="1046" y="1666" width="50" height="50" fill="#f4f5f5"/>
<rect x="1096" y="1666" width="50" height="50" fill="#f6ecd3"/>
<rect x="1146" y="1666" width="50" height="50" fill="#f6ecd3"/>
<rect x="1196" y="1666" width="50" height="50" fill="#ebf3f2"/>
<rect x="1246" y="1666" width="50" height="50" fill="#abdfd7"/>
<rect x="1296" y="1666" width="50" height="50" fill="#e9f2f1"/>
<rect x="1346" y="1666" width="50" height="50" fill="#f5f3ec"/>
<rect x="1396" y="1666" width="50" height="50" fill="#f4f5f5"/>
<rect x="1446" y="1666" width="50" height="50" fill="#f5f3ec"/>
<rect x="1496" y="1666" width="50" height="50" fill="#f6ebcf"/>
<rect x="1546" y="1666" width="50" height="50" fill="#ddbe78"/>
<rect x="346" y="1716" width="50" height="50" fill="#016259"/>
<rect x="396" y="1716" width="50" height="50" fill="#016058"/>
<rect x="446" y="1716" width="50" height="50" fill="#016058"/>
<rect x="496" y="1716" width="50" height="50" fill="#016058"/>
<rect x="546" y="1716" width="50" height="50" fill="#016058"/>
<rect x="596" y="1716" width="50" height="50" fill="#016058"/>
<rect x="646" y="1716" width="50" height="50" fill="#016058"/>
<rect x="696" y="1716" width="50" height="50" fill="#d5edea"/>
<rect x="746" y="1716" width="50" height="50" fill="#d5edea"/>
<rect x="796" y="1716" width="50" height="50" fill="#abdfd7"/>
<rect x="846" y="1716" width="50" height="50" fill="#7ccabe"/>
<rect x="896" y="1716" width="50" height="50" fill="#abdfd7"/>
<rect x="946" y="1716" width="50" height="50" fill="#abdfd7"/>
<rect x="996" y="1716" width="50" height="50" fill="#d5edea"/>
<rect x="1046" y="1716" width="50" height="50" fill="#f4f5f5"/>
<rect x="1096" y="1716" width="50" height="50" fill="#f5f1e4"/>
<rect x="1146" y="1716" width="50" height="50" fill="#f6ecd3"/>
<rect x="1196" y="1716" width="50" height="50" fill="#f6ecd3"/>
<rect x="1246" y="1716" width="50" height="50" fill="#e7f2f0"/>
<rect x="1296" y="1716" width="50" height="50" fill="#abdfd7"/>
<rect x="1346" y="1716" width="50" height="50" fill="#e4f1ef"/>
<rect x="1396" y="1716" width="50" height="50" fill="#f5f4f0"/>
<rect x="1446" y="1716" width="50" height="50" fill="#f4f5f5"/>
<rect x="1496" y="1716" width="50" height="50" fill="#f5f4f0"/>
<rect x="346" y="1766" width="50" height="50" fill="#02675f"/>
<rect x="396" y="1766" width="50" height="50" fill="#01655d"/>
<rect x="446" y="1766" width="50" height="50" fill="#016058"/>
<rect x="496" y="1766" width="50" height="50" fill="#016058"/>
<rect x="546" y="1766" width="50" height="50" fill="#016058"/>
<rect x="596" y="1766" width="50" height="50" fill="#016058"/>
<rect x="646" y="1766" width="50" height="50" fill="#1d8078"/>
<rect x="696" y="1766" width="50" height="50" fill="#f4f5f5"/>
<rect x="746" y="1766" width="50" height="50" fill="#d5edea"/>
<rect x="796" y="1766" width="50" height="50" fill="#abdfd7"/>
<rect x="846" y="1766" width="50" height="50" fill="#47a49b"/>
<rect x="896" y="1766" width="50" height="50" fill="#016058"/>
<rect x="946" y="1766" width="50" height="50" fill="#1d8078"/>
<rect x="996" y="1766" width="50" height="50" fill="#7ccabe"/>
<rect x="1046" y="1766" width="50" height="50" fill="#cbebe6"/>
<rect x="1096" y="1766" width="50" height="50" fill="#f4f5f5"/>
<rect x="1146" y="1766" width="50" height="50" fill="#f5f0e0"/>
<rect x="1196" y="1766" width="50" height="50" fill="#f6ecd3"/>
<rect x="1246" y="1766" width="50" height="50" fill="#f6ecd3"/>
<rect x="1296" y="1766" width="50" height="50" fill="#e6f1f0"/>
<rect x="1346" y="1766" width="50" height="50" fill="#abdfd7"/>
<rect x="1396" y="1766" width="50" height="50" fill="#e2f0ee"/>
<rect x="1446" y="1766" width="50" height="50" fill="#f5f4f2"/>
<rect x="1496" y="1766" width="50" height="50" fill="#f4f5f5"/>
<rect x="296" y="1816" width="50" height="50" fill="#d5edea"/>
<rect x="346" y="1816" width="50" height="50" fill="#4aa69d"/>
<rect x="396" y="1816" width="50" height="50" fill="#0e726a"/>
<rect x="446" y="1816" width="50" height="50" fill="#0a6f67"/>
<rect x="496" y="1816" width="50" height="50" fill="#016058"/>
<rect x="546" y="1816" width="50" height="50" fill="#016058"/>
<rect x="596" y="1816" width="50" height="50" fill="#016058"/>
<rect x="646" y="1816" width="50" height="50" fill="#47a49b"/>
<rect x="696" y="1816" width="50" height="50" fill="#f4f5f5"/>
<rect x="746" y="1816" width="50" height="50" fill="#f4f5f5"/>
<rect x="796" y="1816" width="50" height="50" fill="#abdfd7"/>
<rect x="846" y="1816" width="50" height="50" fill="#7ccabe"/>
<rect x="896" y="1816" width="50" height="50" fill="#1d8078"/>
<rect x="946" y="1816" width="50" height="50" fill="#2d8f87"/>
<rect x="996" y="1816" width="50" height="50" fill="#47a49b"/>
<rect x="1046" y="1816" width="50" height="50" fill="#7ccabe"/>
<rect x="1096" y="1816" width="50" height="50" fill="#c7eae5"/>
<rect x="1146" y="1816" width="50" height="50" fill="#f4f5f5"/>
<rect x="1196" y="1816" width="50" height="50" fill="#f5efde"/>
<rect x="1246" y="1816" width="50" height="50" fill="#f6ecd3"/>
<rect x="1296" y="1816" width="50" height="50" fill="#f6ecd3"/>
<rect x="1346" y="1816" width="50" height="50" fill="#e6f1f0"/>
<rect x="1396" y="1816" width="50" height="50" fill="#abdfd7"/>
<rect x="296" y="1866" width="50" height="50" fill="#d4ede9"/>
<rect x="346" y="1866" width="50" height="50" fill="#d5edea"/>
<rect x="396" y="1866" width="50" height="50" fill="#61b7ac"/>
<rect x="446" y="1866" width="50" height="50" fill="#298b83"/>
<rect x="496" y="1866" width="50" height="50" fill="#298b83"/>
<rect x="546" y="1866" width="50" height="50" fill="#016058"/>
<rect x="596" y="1866" width="50" height="50" fill="#016058"/>
<rect x="646" y="1866" width="50" height="50" fill="#7ccabe"/>
<rect x="696" y="1866" width="50" height="50" fill="#f4f5f5"/>
<rect x="746" y="1866" width="50" height="50" fill="#f4f5f5"/>
<rect x="796" y="1866" width="50" height="50" fill="#d5edea"/>
<rect x="846" y="1866" width="50" height="50" fill="#abdfd7"/>
<rect x="896" y="1866" width="50" height="50" fill="#47a49b"/>
<rect x="946" y="1866" width="50" height="50" fill="#2f9189"/>
<rect x="996" y="1866" width="50" height="50" fill="#47a49b"/>
<rect x="1046" y="1866" width="50" height="50" fill="#61b7ac"/>
<rect x="1096" y="1866" width="50" height="50" fill="#7ccabe"/>
<rect x="1146" y="1866" width="50" height="50" fill="#c4e9e4"/>
<rect x="1196" y="1866" width="50" height="50" fill="#f4f5f5"/>
<rect x="1246" y="1866" width="50" height="50" fill="#f5efde"/>
<rect x="1296" y="1866" width="50" height="50" fill="#f6ecd3"/>
<rect x="1346" y="1866" width="50" height="50" fill="#f6ecd3"/>
<rect x="296" y="1916" width="50" height="50" fill="#d2ede9"/>
<rect x="346" y="1916" width="50" height="50" fill="#d2ede9"/>
<rect x="396" y="1916" width="50" height="50" fill="#d5edea"/>
<rect x="446" y="1916" width="50" height="50" fill="#87d0c5"/>
<rect x="496" y="1916" width="50" height="50" fill="#6abdb2"/>
<rect x="546" y="1916" width="50" height="50" fill="#abdfd7"/>
<rect x="596" y="1916" width="50" height="50" fill="#016058"/>
<rect x="646" y="1916" width="50" height="50" fill="#d5edea"/>
<rect x="696" y="1916" width="50" height="50" fill="#f4f5f5"/>
<rect x="746" y="1916" width="50" height="50" fill="#d5edea"/>
<rect x="796" y="1916" width="50" height="50" fill="#7ccabe"/>
<rect x="846" y="1916" width="50" height="50" fill="#7ccabe"/>
<rect x="896" y="1916" width="50" height="50" fill="#7ccabe"/>
<rect x="946" y="1916" width="50" height="50" fill="#47a49b"/>
<rect x="996" y="1916" width="50" height="50" fill="#3b9b93"/>
<rect x="1046" y="1916" width="50" height="50" fill="#52aca3"/>
<rect x="1096" y="1916" width="50" height="50" fill="#6dbfb4"/>
<rect x="1146" y="1916" width="50" height="50" fill="#7ccabe"/>
<rect x="1196" y="1916" width="50" height="50" fill="#c4e9e4"/>
<rect x="1246" y="1916" width="50" height="50" fill="#f4f5f5"/>
<rect x="296" y="1966" width="50" height="50" fill="#ceece8"/>
<rect x="346" y="1966" width="50" height="50" fill="#d0ece8"/>
<rect x="396" y="1966" width="50" height="50" fill="#ccebe7"/>
<rect x="446" y="1966" width="50" height="50" fill="#d5edea"/>
<rect x="496" y="1966" width="50" height="50" fill="#abdfd7"/>
<rect x="546" y="1966" width="50" height="50" fill="#abdfd7"/>
<rect x="596" y="1966" width="50" height="50" fill="#016058"/>
<rect x="646" y="1966" width="50" height="50" fill="#d5edea"/>
<rect x="696" y="1966" width="50" height="50" fill="#f4f5f5"/>
<rect x="746" y="1966" width="50" height="50" fill="#d5edea"/>
<rect x="796" y="1966" width="50" height="50" fill="#f4f5f5"/>
<rect x="846" y="1966" width="50" height="50" fill="#abdfd7"/>
<rect x="896" y="1966" width="50" height="50" fill="#7ccabe"/>
<rect x="946" y="1966" width="50" height="50" fill="#6abdb2"/>
<rect x="996" y="1966" width="50" height="50" fill="#47a49b"/>
<rect x="1046" y="1966" width="50" height="50" fill="#419f97"/>
<rect x="1096" y="1966" width="50" height="50" fill="#5bb3a8"/>
<rect x="1146" y="1966" width="50" height="50" fill="#73c3b8"/>
<rect x="1196" y="1966" width="50" height="50" fill="#7ccabe"/>
<rect x="296" y="2016" width="50" height="50" fill="#ccebe7"/>
<rect x="346" y="2016" width="50" height="50" fill="#ccebe7"/>
<rect x="396" y="2016" width="50" height="50" fill="#ccebe7"/>
<rect x="446" y="2016" width="50" height="50" fill="#c4e9e4"/>
<rect x="496" y="2016" width="50" height="50" fill="#d5edea"/>
<rect x="546" y="2016" width="50" height="50" fill="#7ccabe"/>
<rect x="596" y="2016" width="50" height="50" fill="#1d8078"/>
<rect x="646" y="2016" width="50" height="50" fill="#d5edea"/>
<rect x="696" y="2016" width="50" height="50" fill="#f4f5f5"/>
<rect x="746" y="2016" width="50" height="50" fill="#f4f5f5"/>
<rect x="796" y="2016" width="50" height="50" fill="#eff3f3"/>
<rect x="846" y="2016" width="50" height="50" fill="#f4f5f5"/>
<rect x="896" y="2016" width="50" height="50" fill="#ccebe7"/>
<rect x="946" y="2016" width="50" height="50" fill="#7ccabe"/>
<rect x="996" y="2016" width="50" height="50" fill="#64b9ae"/>
<rect x="1046" y="2016" width="50" height="50" fill="#47a49b"/>
<rect x="1096" y="2016" width="50" height="50" fill="#84cfc3"/>
<rect x="1146" y="2016" width="50" height="50" fill="#abdfd7"/>
<rect x="1196" y="2016" width="50" height="50" fill="#abdfd7"/>
<rect x="1246" y="2016" width="50" height="50" fill="#abdfd7"/>
<rect x="296" y="2066" width="50" height="50" fill="#ccebe7"/>
<rect x="346" y="2066" width="50" height="50" fill="#ccebe7"/>
<rect x="396" y="2066" width="50" height="50" fill="#c9eae6"/>
<rect x="446" y="2066" width="50" height="50" fill="#cbebe6"/>
<rect x="496" y="2066" width="50" height="50" fill="#abdfd7"/>
<rect x="546" y="2066" width="50" height="50" fill="#7ccabe"/>
<rect x="596" y="2066" width="50" height="50" fill="#7ccabe"/>
<rect x="646" y="2066" width="50" height="50" fill="#abdfd7"/>
<rect x="696" y="2066" width="50" height="50" fill="#d5edea"/>
<rect x="746" y="2066" width="50" height="50" fill="#f4f5f5"/>
<rect x="796" y="2066" width="50" height="50" fill="#f4f5f5"/>
<rect x="846" y="2066" width="50" height="50" fill="#f4f5f5"/>
<rect x="896" y="2066" width="50" height="50" fill="#f4f5f5"/>
<rect x="946" y="2066" width="50" height="50" fill="#c1e8e2"/>
<rect x="996" y="2066" width="50" height="50" fill="#a0dad1"/>
<rect x="1046" y="2066" width="50" height="50" fill="#abdfd7"/>
<rect x="1096" y="2066" width="50" height="50" fill="#abdfd7"/>
<rect x="1146" y="2066" width="50" height="50" fill="#abdfd7"/>
<rect x="1196" y="2066" width="50" height="50" fill="#abdfd7"/>
<rect x="1246" y="2066" width="50" height="50" fill="#abdfd7"/>
<rect x="296" y="2116" width="50" height="50" fill="#ccebe7"/>
<rect x="346" y="2116" width="50" height="50" fill="#ccebe7"/>
<rect x="396" y="2116" width="50" height="50" fill="#ceece8"/>
<rect x="446" y="2116" width="50" height="50" fill="#cbebe6"/>
<rect x="496" y="2116" width="50" height="50" fill="#d5edea"/>
<rect x="546" y="2116" width="50" height="50" fill="#abdfd7"/>
<rect x="596" y="2116" width="50" height="50" fill="#d5edea"/>
<rect x="646" y="2116" width="50" height="50" fill="#f4f5f5"/>
<rect x="696" y="2116" width="50" height="50" fill="#f4f5f5"/>
<rect x="746" y="2116" width="50" height="50" fill="#f4f5f5"/>
<rect x="796" y="2116" width="50" height="50" fill="#f4f5f5"/>
<rect x="846" y="2116" width="50" height="50" fill="#f4f5f5"/>
<rect x="896" y="2116" width="50" height="50" fill="#d5edea"/>
<rect x="946" y="2116" width="50" height="50" fill="#abdfd7"/>
<rect x="996" y="2116" width="50" height="50" fill="#abdfd7"/>
<rect x="1046" y="2116" width="50" height="50" fill="#abdfd7"/>
<rect x="1096" y="2116" width="50" height="50" fill="#abdfd7"/>
<rect x="1146" y="2116" width="50" height="50" fill="#abdfd7"/>
<rect x="1196" y="2116" width="50" height="50" fill="#abdfd7"/>
<rect x="1246" y="2116" width="50" height="50" fill="#abdfd7"/>
<rect x="296" y="2166" width="50" height="50" fill="#ccebe7"/>
<rect x="346" y="2166" width="50" height="50" fill="#ceece8"/>
<rect x="396" y="2166" width="50" height="50" fill="#ceece8"/>
<rect x="446" y="2166" width="50" height="50" fill="#d5edea"/>
<rect x="496" y="2166" width="50" height="50" fill="#d5edea"/>
<rect x="546" y="2166" width="50" height="50" fill="#d5edea"/>
<rect x="596" y="2166" width="50" height="50" fill="#d5edea"/>
<rect x="646" y="2166" width="50" height="50" fill="#f4f5f5"/>
<rect x="696" y="2166" width="50" height="50" fill="#f4f5f5"/>
<rect x="746" y="2166" width="50" height="50" fill="#e7f2f0"/>
<rect x="796" y="2166" width="50" height="50" fill="#e6f1f0"/>
<rect x="846" y="2166" width="50" height="50" fill="#d2ede9"/>
<rect x="896" y="2166" width="50" height="50" fill="#abdfd7"/>
<rect x="946" y="2166" width="50" height="50" fill="#abdfd7"/>
<rect x="996" y="2166" width="50" height="50" fill="#abdfd7"/>
<rect x="1046" y="2166" width="50" height="50" fill="#abdfd7"/>
<rect x="1096" y="2166" width="50" height="50" fill="#abdfd7"/>
<rect x="1146" y="2166" width="50" height="50" fill="#abdfd7"/>
<rect x="1196" y="2166" width="50" height="50" fill="#abdfd7"/>
<rect x="1246" y="2166" width="50" height="50" fill="#abdfd7"/>
<rect x="296" y="2216" width="50" height="50" fill="#c9eae6"/>
<rect x="346" y="2216" width="50" height="50" fill="#c9eae6"/>
<rect x="396" y="2216" width="50" height="50" fill="#ccebe7"/>
<rect x="446" y="2216" width="50" height="50" fill="#cbebe6"/>
<rect x="496" y="2216" width="50" height="50" fill="#d5edea"/>
<rect x="546" y="2216" width="50" height="50" fill="#abdfd7"/>
<rect x="596" y="2216" width="50" height="50" fill="#47a49b"/>
<rect x="646" y="2216" width="50" height="50" fill="#7ccabe"/>
<rect x="696" y="2216" width="50" height="50" fill="#d5edea"/>
<rect x="746" y="2216" width="50" height="50" fill="#d5edea"/>
<rect x="796" y="2216" width="50" height="50" fill="#abdfd7"/>
<rect x="846" y="2216" width="50" height="50" fill="#b9e4de"/>
<rect x="896" y="2216" width="50" height="50" fill="#abdfd7"/>
<rect x="946" y="2216" width="50" height="50" fill="#abdfd7"/>
<rect x="996" y="2216" width="50" height="50" fill="#abdfd7"/>
<rect x="1046" y="2216" width="50" height="50" fill="#abdfd7"/>
<rect x="1096" y="2216" width="50" height="50" fill="#abdfd7"/>
<rect x="1146" y="2216" width="50" height="50" fill="#abdfd7"/>
<rect x="1196" y="2216" width="50" height="50" fill="#abdfd7"/>
<rect x="1246" y="2216" width="50" height="50" fill="#abdfd7"/>
<rect x="296" y="2266" width="50" height="50" fill="#c1e8e2"/>
<rect x="346" y="2266" width="50" height="50" fill="#c1e8e2"/>
<rect x="396" y="2266" width="50" height="50" fill="#bfe7e1"/>
<rect x="446" y="2266" width="50" height="50" fill="#c4e9e4"/>
<rect x="496" y="2266" width="50" height="50" fill="#abdfd7"/>
<rect x="546" y="2266" width="50" height="50" fill="#47a49b"/>
<rect x="596" y="2266" width="50" height="50" fill="#7ccabe"/>
<rect x="646" y="2266" width="50" height="50" fill="#1d8078"/>
<rect x="696" y="2266" width="50" height="50" fill="#47a49b"/>
<rect x="746" y="2266" width="50" height="50" fill="#7ccabe"/>
<rect x="796" y="2266" width="50" height="50" fill="#abdfd7"/>
<rect x="846" y="2266" width="50" height="50" fill="#a3dbd3"/>
<rect x="896" y="2266" width="50" height="50" fill="#abdfd7"/>
<rect x="946" y="2266" width="50" height="50" fill="#abdfd7"/>
<rect x="996" y="2266" width="50" height="50" fill="#abdfd7"/>
<rect x="1046" y="2266" width="50" height="50" fill="#abdfd7"/>
<rect x="1096" y="2266" width="50" height="50" fill="#abdfd7"/>
<rect x="1146" y="2266" width="50" height="50" fill="#abdfd7"/>
<rect x="1196" y="2266" width="50" height="50" fill="#abdfd7"/>
<rect x="1246" y="2266" width="50" height="50" fill="#abdfd7"/>
<rect x="296" y="2316" width="50" height="50" fill="#b9e4de"/>
<rect x="346" y="2316" width="50" height="50" fill="#b6e3dd"/>
<rect x="396" y="2316" width="50" height="50" fill="#b9e4de"/>
<rect x="446" y="2316" width="50" height="50" fill="#abdfd7"/>
<rect x="496" y="2316" width="50" height="50" fill="#9ad8ce"/>
<rect x="546" y="2316" width="50" height="50" fill="#d5edea"/>
<rect x="596" y="2316" width="50" height="50" fill="#7ccabe"/>
<rect x="646" y="2316" width="50" height="50" fill="#47a49b"/>
<rect x="696" y="2316" width="50" height="50" fill="#7ccabe"/>
<rect x="746" y="2316" width="50" height="50" fill="#6abdb2"/>
<rect x="796" y="2316" width="50" height="50" fill="#7ccabe"/>
<rect x="846" y="2316" width="50" height="50" fill="#9ad8ce"/>
<rect x="896" y="2316" width="50" height="50" fill="#abdfd7"/>
<rect x="946" y="2316" width="50" height="50" fill="#abdfd7"/>
<rect x="996" y="2316" width="50" height="50" fill="#abdfd7"/>
<rect x="1046" y="2316" width="50" height="50" fill="#abdfd7"/>
<rect x="1096" y="2316" width="50" height="50" fill="#abdfd7"/>
<rect x="1146" y="2316" width="50" height="50" fill="#abdfd7"/>
<rect x="1196" y="2316" width="50" height="50" fill="#abdfd7"/>
<rect x="1246" y="2316" width="50" height="50" fill="#abdfd7"/>
<rect x="296" y="2366" width="50" height="50" fill="#b4e2db"/>
<rect x="346" y="2366" width="50" height="50" fill="#b1e1da"/>
<rect x="396" y="2366" width="50" height="50" fill="#abdfd7"/>
<rect x="446" y="2366" width="50" height="50" fill="#b6e3dd"/>
<rect x="496" y="2366" width="50" height="50" fill="#d5edea"/>
<rect x="546" y="2366" width="50" height="50" fill="#abdfd7"/>
<rect x="596" y="2366" width="50" height="50" fill="#8dd2c7"/>
<rect x="646" y="2366" width="50" height="50" fill="#6abdb2"/>
<rect x="696" y="2366" width="50" height="50" fill="#61b7ac"/>
<rect x="746" y="2366" width="50" height="50" fill="#7ccabe"/>
<rect x="796" y="2366" width="50" height="50" fill="#76c6ba"/>
<rect x="846" y="2366" width="50" height="50" fill="#7ccabe"/>
<rect x="896" y="2366" width="50" height="50" fill="#9ad8ce"/>
<rect x="946" y="2366" width="50" height="50" fill="#abdfd7"/>
<rect x="996" y="2366" width="50" height="50" fill="#abdfd7"/>
<rect x="1046" y="2366" width="50" height="50" fill="#abdfd7"/>
<rect x="1096" y="2366" width="50" height="50" fill="#abdfd7"/>
<rect x="1146" y="2366" width="50" height="50" fill="#abdfd7"/>
<rect x="1196" y="2366" width="50" height="50" fill="#abdfd7"/>
<rect x="1246" y="2366" width="50" height="50" fill="#abdfd7"/>
</g>
<ellipse cx="650" cy="440" rx="38" ry="30" fill="#ab6e1f" filter="url(#bl3)"/>
<ellipse cx="690" cy="520" rx="30" ry="25" fill="#c79040" filter="url(#bl3)"/>
<ellipse cx="870" cy="862" rx="30" ry="22" fill="#b17423" filter="url(#bl3)"/>
<ellipse cx="960" cy="975" rx="28" ry="18" fill="#b17423" filter="url(#bl3)"/>
<ellipse cx="830" cy="1085" rx="60" ry="18" fill="#0c7169" filter="url(#bl3)" transform="rotate(30 830 1085)"/>
<ellipse cx="905" cy="1130" rx="50" ry="16" fill="#0c7169" filter="url(#bl3)" transform="rotate(20 905 1130)"/>
<ellipse cx="885" cy="1195" rx="18" ry="40" fill="#1a7e76" filter="url(#bl3)"/>
<ellipse cx="760" cy="1150" rx="15" ry="35" fill="#278a82" filter="url(#bl3)"/>
<ellipse cx="469" cy="908" rx="16" ry="20" fill="#0c7169" filter="url(#bl3)"/>
<ellipse cx="1177" cy="1204" rx="14" ry="14" fill="#0c7169" filter="url(#bl3)"/>
<ellipse cx="1655" cy="890" rx="22" ry="55" fill="#278a82" filter="url(#bl3)"/>
<ellipse cx="1570" cy="850" rx="25" ry="25" fill="#47a49b" filter="url(#bl3)"/>
<ellipse cx="1250" cy="460" rx="25" ry="35" fill="#35978f" filter="url(#bl3)"/>
<ellipse cx="500" cy="300" rx="20" ry="18" fill="#278a82" filter="url(#bl3)"/>
<ellipse cx="683" cy="1230" rx="14" ry="65" fill="#b17423" filter="url(#bl3)" transform="rotate(-5 683 1230)"/>
<ellipse cx="688" cy="1340" rx="14" ry="40" fill="#c79040" filter="url(#bl3)"/>
<ellipse cx="655" cy="1545" rx="18" ry="35" fill="#c79040" filter="url(#bl3)"/>
<path d="M622.8,1682.7 642.8,1672.7 669.5,1692.7 682.9,1712.8 682.9,1736.0 672.8,1766.0 669.5,1799.5 662.8,1832.9 666.2,1866.3 656.2,1916.3 636.1,1966.3 639.5,1999.7 629.5,2049.8 612.8,2066.4 589.4,2083.1 529.4,2083.0 529.4,1666.0Z" fill="#0f7068" fill-opacity="1.0" filter="url(#bl2)"/>
<path d="M889.7,1789.5 926.4,1776.2 963.1,1772.8 996.5,1756.1 1016.5,1762.8 1009.8,1789.5 979.8,1816.2 969.8,1832.9 929.8,1832.9 933.1,1856.2 926.4,1882.9 906.4,1876.3 879.7,1849.6 869.7,1816.2Z" fill="#0f7068" fill-opacity="1.0" filter="url(#bl2)"/>
<path d="M520.0,1910.0 600.0,1910.0 606.0,2000.0 590.0,2080.0 570.0,2170.0 560.0,2250.0 500.0,2260.0Z" fill="#ffffff" fill-opacity="0.45" filter="url(#bl2)"/>
<path d="M540.0,2250.0 600.0,2262.0 660.0,2290.0 720.0,2330.0 660.0,2372.0 580.0,2350.0 530.0,2300.0Z" fill="#ffffff" fill-opacity="0.35" filter="url(#bl2)"/>
</g>
<g fill="none" stroke="#000" stroke-width="3.8" stroke-linejoin="round" stroke-linecap="round">
<path d="M247.6,169.3 248.5,181.1 243.6,184.2 239.8,198.9 242.7,207.2 236.0,216.1 237.8,225.0 241.6,230.5 250.5,246.1 262.7,259.4 277.2,273.9 290.5,286.1 289.4,291.7 305.0,292.8 313.9,299.0 329.5,296.1 343.9,287.9 361.7,281.7 374.0,272.3 391.8,274.3 409.6,277.7 424.0,283.5 445.2,301.7 461.9,303.5 486.3,280.6 499.7,276.8 504.1,239.4 524.1,225.0 543.1,224.3 547.5,218.3 572.0,220.5 596.0,204.9"/>
<path d="M199.3,229.4 209.3,225.0 220.5,227.2 226.0,233.9 234.9,236.1 241.6,230.5"/>
<path d="M199.3,256.1 207.1,263.9 209.3,271.7 217.1,273.9 234.9,281.7 242.7,289.5 243.8,296.1 240.5,302.8 247.2,310.6 263.9,317.3 268.3,321.7"/>
<path d="M277.2,273.9 266.1,276.1 266.1,292.8 272.8,295.0 268.3,299.5 265.0,317.3 269.4,313.9 285.0,314.6 293.9,318.4 305.0,319.5 311.7,334.0 322.8,330.6 325.0,329.5 331.7,349.5 347.3,346.2 360.6,338.4 345.1,319.5 349.5,313.9 367.3,305.0 374.0,294.6 387.3,292.4 404.0,301.7 411.8,312.8 418.5,315.1 410.7,322.8 415.1,335.1 428.5,348.4"/>
<path d="M445.2,301.7 442.9,306.2 449.6,326.2 444.1,335.1 431.8,332.9 428.5,348.4 441.8,366.2 447.4,392.9 440.7,401.8 447.4,430.7 441.8,449.6 453.0,456.3 426.3,494.1 411.8,496.4 404.0,507.5 406.2,524.2 392.9,526.4 397.3,537.5 374.0,547.5 357.3,554.2 359.5,566.0"/>
<path d="M596.0,232.7 587.5,246.1 575.3,287.2 592.0,290.6 596.0,303.9"/>
<path d="M397.3,537.5 431.8,554.2 440.7,566.0"/>
<path d="M359.5,566.0 359.5,570.4 348.4,589.4 341.7,610.5 329.5,614.9 335.0,645.0 329.5,653.9 348.4,668.3 360.6,652.8 367.3,667.2 351.7,691.7 325.0,711.7 313.9,734.0 330.6,765.1 319.5,779.6 343.9,794.0 368.4,814.1 377.3,836.3 390.7,851.9 449.6,966.0"/>
<path d="M351.7,691.7 355.1,705.0 345.1,712.8 346.2,724.0 360.6,721.7 369.5,725.1 386.2,741.8 404.0,728.4 410.7,706.2 430.7,678.3 468.5,666.1 504.1,630.5 513.0,610.5 508.6,587.1"/>
<path d="M440.7,566.0 442.9,568.2 471.9,572.7 479.6,568.7 508.6,587.1"/>
<path d="M508.6,587.1 517.5,583.8 539.7,598.3 549.7,613.8 564.2,622.7 584.2,656.1 596.0,657.2"/>
<path d="M596.0,744.0 587.5,747.3 577.5,777.3 582.0,792.9 563.1,801.8 559.7,810.7 564.2,811.8 554.2,824.1 564.2,848.5 578.6,870.8 578.6,886.4 596.0,886.4"/>
<path d="M564.2,811.8 596.0,825.2"/>
<path d="M446.3,966.0 481.0,1017.4 475.5,1025.8 488.0,1052.2 513.0,1074.5 568.6,1107.8 634.0,1139.8 638.2,1155.1 670.1,1171.8 677.1,1216.3 679.9,1271.9 668.7,1355.3 660.4,1410.9 654.8,1466.0"/>
<path d="M670.1,1171.8 685.4,1163.4 696.0,1144.0"/>
<path d="M1283.5,450.0 1291.8,466.7 1306.8,511.7 1313.5,513.4 1315.2,520.1 1326.9,525.1 1330.2,536.8 1328.5,548.4 1316.9,560.1 1306.8,570.1 1295.2,576.8 1285.2,583.5 1281.8,596.8 1273.5,606.8 1266.8,616.9 1256.8,621.9 1240.1,631.0 1253.5,633.5 1291.8,615.2 1296.8,610.2"/>
<path d="M1171.7,506.7 1173.4,521.8 1186.7,525.1 1211.7,536.8 1226.8,556.8 1236.8,586.8 1248.4,606.8 1256.8,616.9"/>
<path d="M1300.2,616.9 1303.5,633.5 1313.5,646.9 1338.6,638.6 1350.2,626.9 1373.6,616.9 1376.9,590.2 1346.9,586.8 1333.5,583.5 1308.5,585.2 1300.2,595.2 1300.2,616.9"/>
<path d="M1373.6,616.9 1388.6,605.2 1397.0,601.8 1417.0,603.5 1448.7,615.2"/>
<path d="M1336.9,666.9 1350.2,641.9"/>
<path d="M1450.3,616.8 1448.6,638.5 1441.9,653.5 1435.3,671.9 1423.6,696.9 1410.2,721.9 1398.6,730.3 1368.5,753.7 1375.2,750.3 1391.9,749.5 1406.9,757.0 1410.2,780.0"/>
<path d="M1375.2,750.3 1383.5,762.0 1380.2,780.0"/>
<path d="M1495.3,655.2 1497.0,685.2"/>
<path d="M596.0,206.0 626.0,180.5 637.2,182.0 646.1,191.6 639.4,202.7 619.4,209.4 629.4,228.3 629.4,248.3 614.9,263.9 627.1,290.6 641.6,288.4 649.4,265.0 638.3,248.3 636.0,228.3 675.0,214.9 672.8,200.5 683.9,189.4 693.9,211.6 717.2,212.7 738.4,231.6 740.6,241.6 771.8,241.6 804.0,238.3 824.0,252.8 846.3,256.1 865.2,246.1 865.2,238.3 944.2,236.1 916.4,245.0 927.5,260.5 952.0,263.9 978.6,280.6 983.1,305.0 996.0,305.0"/>
<path d="M949.7,233.9 975.3,230.5 975.3,256.1 940.8,257.2 952.0,248.3 949.7,233.9"/>
<path d="M596.0,297.3 606.0,312.8 602.7,341.8 618.2,356.2 660.5,354.0 679.4,357.3 701.7,385.1 717.2,381.8 738.4,382.9 756.2,379.6 768.4,385.1 754.0,411.8 751.7,435.2 758.4,459.7 768.4,473.0 752.8,490.8 767.3,499.7 777.3,522.0 780.6,544.2"/>
<path d="M679.4,566.0 705.0,557.5 708.3,547.5 705.0,542.0 687.2,542.0 686.1,525.3 751.7,525.3 761.7,514.2 771.8,522.0 778.4,542.0 780.6,544.2 800.7,559.8 824.0,555.3 831.8,546.4 869.6,533.1 874.1,519.7 895.2,510.8 911.9,515.3 917.5,519.7 916.4,535.3 925.3,566.0"/>
<path d="M895.2,510.8 895.2,504.2 866.3,500.8 865.2,464.1 849.6,448.5 848.5,443.0 863.0,446.3 905.2,455.2 909.7,464.1 913.0,453.0 974.2,433.0 985.3,421.8 978.6,412.9 996.0,410.7"/>
<path d="M996.0,321.7 985.3,332.9 985.3,341.8 995.3,354.0 969.7,365.1 966.4,388.5 957.5,389.6 978.6,412.9"/>
<path d="M679.4,566.0 679.4,587.1 695.0,599.4 700.6,619.4 685.0,719.5"/>
<path d="M596.0,659.4 607.1,660.5 624.9,651.7 637.2,656.1 656.1,653.9 680.5,669.4 661.6,700.6 667.2,701.7 685.0,719.5"/>
<path d="M685.0,719.5 669.4,715.1 655.0,717.3 622.7,726.2 604.9,738.4 596.0,746.2"/>
<path d="M596.0,824.1 669.4,843.0 785.1,899.7"/>
<path d="M596.0,885.2 604.9,888.6 611.6,905.3 640.5,905.3 662.7,886.4 663.9,936.4 676.1,939.7 682.8,935.3 698.3,936.4 725.0,938.6 738.4,934.2 760.6,919.7 787.3,899.7 828.5,895.3 829.6,917.5 828.5,953.1 842.9,966.0"/>
<path d="M698.3,936.4 716.1,966.0"/>
<path d="M785.1,899.7 797.3,884.1 818.5,886.4 820.7,890.8 838.5,879.7 847.4,868.6 869.6,864.1 871.9,850.8 889.7,838.5 914.1,839.6 936.4,861.9 947.5,861.9 954.2,864.1 996.0,864.1"/>
<path d="M921.9,566.0 923.0,603.8 943.1,623.8 952.0,628.3 954.2,603.8 966.4,597.1 982.0,609.4 996.0,601.6"/>
<path d="M714.1,966.0 725.3,986.9 718.3,996.6 715.5,1048.0 703.0,1063.3 708.6,1075.8 701.6,1085.6 715.5,1113.4 694.7,1148.1"/>
<path d="M694.7,1148.1 686.3,1163.4 669.6,1171.8"/>
<path d="M694.7,1148.1 711.4,1170.4 714.1,1191.3 729.4,1205.2 722.5,1237.1 737.8,1271.9 751.7,1317.8 775.3,1313.6"/>
<path d="M775.3,1313.6 779.5,1322.0 768.4,1353.9 733.6,1369.2 735.0,1424.8 728.0,1436.0 736.4,1447.1 715.5,1466.0"/>
<path d="M775.3,1313.6 801.7,1284.4 843.4,1291.4 862.9,1315.0 874.0,1290.0 913.0,1290.0 918.5,1296.9"/>
<path d="M918.5,1296.9 931.0,1244.1 947.7,1213.5 1003.3,1203.8 1032.5,1204.3 1063.1,1219.1 1064.5,1228.8 1072.9,1226.0"/>
<path d="M918.5,1296.9 976.9,1351.2 1002.0,1355.3 1075.6,1391.5 1079.8,1405.4 1049.2,1455.4 1079.8,1466.0"/>
<path d="M843.4,966.0 862.9,982.7 904.6,991.0 938.0,1009.1 947.7,1016.1 970.0,1016.1 983.9,1023.0 989.4,1032.7 993.6,1057.8 995.0,1067.5 986.7,1068.9 993.6,1082.8 999.2,1105.0 1060.3,1106.4 1054.8,1117.6 1057.6,1135.6 1074.3,1146.8 1082.6,1157.9 1082.6,1177.3 1074.3,1196.8 1064.5,1213.5 1072.9,1226.0 1065.9,1230.2 1071.5,1252.4 1070.1,1291.4 1102.1,1298.3 1118.7,1292.8 1141.0,1299.7 1146.0,1310.8"/>
<path d="M983.9,1023.0 997.8,999.4 1007.5,982.7 1007.5,971.6 999.2,966.0"/>
<path d="M1082.6,1157.9 1107.6,1138.4 1129.9,1134.2 1146.0,1139.8"/>
<path d="M658.6,1416.0 653.1,1471.6 635.0,1510.5 637.8,1552.3 628.0,1577.3 636.4,1624.6 622.5,1670.4 598.8,1727.5 579.4,1777.5 565.5,1777.5 568.2,1816.4 578.0,1845.6 564.1,1867.9 554.3,1916.0"/>
<path d="M735.1,1416.0 735.1,1424.3 728.1,1435.5 737.9,1448.0 715.6,1467.4 693.4,1498.0 682.3,1527.2 685.0,1557.8 665.6,1591.2 680.9,1645.4 687.8,1652.4 687.8,1683.0 669.7,1714.9 669.7,1740.0 646.1,1762.2 646.1,1791.4 655.8,1823.4 637.8,1833.1 621.1,1894.3 622.5,1916.0"/>
<path d="M1046.0,1822.0 1029.9,1827.6 963.1,1834.5 929.8,1831.7 935.3,1851.2 929.8,1876.2 935.3,1891.5 915.9,1902.7 882.5,1906.8 851.9,1894.3 839.4,1902.7 840.8,1916.0"/>
<path d="M562.8,1866.0 541.9,1973.1 561.4,1977.2 573.9,1938.3 590.6,1943.9 576.7,2012.0 541.9,2002.3 530.8,2055.1 500.2,2082.9 548.9,2092.6 514.1,2117.7 501.6,2149.6 504.4,2205.3 521.1,2226.1 512.7,2244.2 522.5,2265.1 585.0,2288.7 618.4,2305.4 646.2,2322.1 653.2,2285.9 674.0,2280.3"/>
<path d="M628.1,1866.0 619.8,1895.2 626.8,1935.5 614.2,1941.1 622.6,1980.0 635.1,1992.5 624.0,2003.7 639.3,2010.6 643.4,2024.5 628.1,2030.1 632.3,2046.8 621.2,2085.7 603.1,2119.1 605.9,2134.4 597.6,2153.8 571.1,2169.1 573.9,2203.9 586.4,2213.6 605.9,2213.6 607.3,2235.9 621.2,2255.3 742.2,2266.4"/>
<path d="M932.7,1866.0 935.4,1891.0 916.0,1902.2 882.6,1906.3 852.0,1895.2 839.5,1903.5 843.7,1935.5 865.9,1946.6 884.0,1935.5 892.3,1952.2 863.1,1961.9 838.1,1981.4 833.9,2010.6 824.2,2031.5 795.0,2031.5 770.0,2048.1 760.2,2071.8 792.2,2096.8 822.8,2102.4 811.7,2131.6 772.8,2149.6 751.9,2185.8 724.1,2198.3 710.2,2213.6 721.3,2244.2 742.2,2266.4"/>
<path d="M674.0,2280.3 701.8,2272.0 724.1,2276.2 754.7,2313.7 796.4,2333.2 840.9,2338.7 827.0,2356.8 795.0,2358.2 776.9,2349.9 724.1,2347.1"/>
<path d="M724.1,2276.2 725.5,2347.1"/>
<path d="M532.2,2283.1 573.9,2319.3 651.8,2355.4 724.1,2366.0"/>
<path d="M532.2,2283.1 557.2,2288.7 601.7,2308.2 646.2,2322.1"/>
<path d="M996.0,305.0 1009.3,311.7 1033.8,324.0 1052.7,344.0 1053.8,361.8 1066.1,362.9 1096.1,388.5 1133.9,394.0 1137.3,388.5 1164.0,387.4 1196.2,395.1 1232.9,407.4 1268.5,434.1 1273.0,446.3 1279.6,443.0 1287.4,450.8 1305.2,509.7 1310.8,519.7 1316.4,517.5 1313.0,522.0 1327.5,526.4 1329.7,539.7 1327.5,548.6 1314.1,566.0"/>
<path d="M1009.3,311.7 996.0,325.1"/>
<path d="M1096.1,388.5 1091.7,419.6 1071.6,427.4 1073.9,434.1 1067.2,450.8 1082.8,474.1 1091.7,475.2 1096.1,491.9 1113.9,522.0"/>
<path d="M1038.3,566.0 1040.5,590.5 1043.8,602.7 1053.8,610.5 1060.5,619.4 1078.3,630.5 1093.9,637.2 1105.0,642.8 1111.7,650.5 1117.2,650.5 1120.6,657.2 1053.8,795.1 1056.1,805.2 1062.7,817.4"/>
<path d="M996.0,597.1 1002.7,574.9 1038.3,574.9"/>
<path d="M1062.7,817.4 1073.9,833.0 1079.4,848.5 1080.5,857.4 1089.4,870.8 1098.3,877.5 1109.5,884.1 1117.2,886.4 1316.4,898.6"/>
<path d="M1396.0,728.4 1366.4,752.9 1383.1,756.2 1386.4,761.8 1380.9,772.9 1378.6,786.2 1352.0,801.8 1347.5,821.8 1353.1,836.3 1347.5,853.0 1331.9,868.6 1320.8,888.6 1316.4,898.6 1307.5,922.0 1303.0,944.2 1305.2,966.0"/>
<path d="M1096.0,1155.1 1108.5,1139.8 1129.4,1134.2 1151.6,1144.0 1164.1,1149.5 1179.4,1148.1 1194.7,1142.6 1207.2,1137.0 1197.5,1159.3 1226.7,1163.4"/>
<path d="M1304.6,966.0 1307.3,993.8 1319.9,981.3 1310.1,999.4 1296.2,1038.3 1286.5,1063.3 1274.0,1068.9 1257.3,1091.1 1240.6,1105.0 1237.8,1110.6 1223.9,1132.9 1226.7,1163.4"/>
<path d="M1226.7,1163.4 1233.7,1181.5 1262.9,1196.8 1294.8,1207.9 1294.8,1226.0"/>
<path d="M1294.8,1207.9 1310.1,1194.0 1343.5,1180.1 1360.2,1171.8 1390.8,1174.6 1413.0,1163.4 1410.2,1144.0 1417.2,1127.3 1410.2,1116.2 1411.6,1099.5 1422.8,1093.9 1429.7,1067.5 1438.0,1057.8 1452.0,1071.7"/>
<path d="M1382.4,1080.0 1413.0,1080.0 1413.0,1099.5 1382.4,1099.5 1382.4,1080.0"/>
<path d="M1310.1,999.4 1318.5,993.8 1343.5,1007.7 1357.4,991.0 1365.7,1011.9 1376.9,1004.9 1399.1,1007.7 1418.6,1000.8 1446.4,993.8 1449.2,966.0"/>
<path d="M1446.4,993.8 1450.6,1027.2 1457.5,1049.4 1453.3,1071.7"/>
<path d="M1453.3,1071.7 1471.4,1055.0 1513.1,1041.1 1529.8,1052.2 1552.1,1055.0 1579.9,1068.9 1596.0,1071.7"/>
<path d="M1294.8,1226.0 1279.5,1244.1 1268.4,1260.8 1260.1,1274.7 1248.9,1288.6 1232.3,1305.3 1212.8,1319.2 1196.1,1338.6 1187.8,1355.3 1185.0,1380.3 1178.0,1405.4 1171.1,1438.7 1140.5,1466.0"/>
<path d="M1294.8,1226.0 1311.5,1220.4 1349.1,1226.0 1360.2,1239.9 1363.0,1231.6 1396.3,1226.0 1410.2,1227.4 1415.8,1241.3 1418.6,1263.6 1435.3,1271.9 1436.7,1294.1 1445.0,1316.4 1463.1,1313.6 1485.3,1305.3 1504.8,1299.7 1568.7,1280.2 1577.1,1258.0 1591.0,1234.4 1596.0,1227.4"/>
<path d="M1596.0,1296.9 1585.4,1320.6 1540.9,1320.6 1513.1,1324.7 1493.7,1330.3 1474.2,1347.0 1443.6,1358.1 1418.6,1374.8 1390.8,1391.5 1376.9,1408.2 1371.3,1424.8 1372.7,1444.3 1375.5,1466.0"/>
<path d="M1232.3,1306.7 1251.7,1308.0 1290.7,1316.4 1324.0,1320.6 1335.2,1330.3 1340.7,1352.5 1349.1,1374.8 1374.1,1377.6 1379.6,1388.7 1388.0,1391.5"/>
<path d="M1096.0,1296.9 1115.5,1292.8 1140.5,1303.9 1151.6,1352.5 1176.6,1348.4 1187.8,1355.3"/>
<path d="M1178.0,1405.4 1191.9,1404.0 1207.2,1422.1 1207.2,1466.0"/>
<path d="M1207.2,1427.6 1235.0,1430.4 1276.8,1438.7 1285.1,1427.6 1312.9,1419.3 1346.3,1416.5 1371.3,1416.5"/>
<path d="M1207.2,1458.2 1218.4,1455.4 1251.7,1458.2 1268.4,1466.0"/>
<path d="M1076.6,1416.0 1048.8,1453.5 1117.0,1467.4 1140.6,1463.3 1171.2,1436.9 1176.8,1416.0"/>
<path d="M1201.8,1416.0 1210.1,1427.1 1207.3,1450.8 1168.4,1471.6 1140.6,1491.1 1112.8,1516.1 1082.2,1552.3"/>
<path d="M1210.1,1427.1 1279.6,1441.0 1288.0,1428.5 1313.0,1420.2 1340.8,1421.6 1371.4,1416.0"/>
<path d="M1207.3,1450.8 1268.5,1467.4 1296.3,1482.7 1333.9,1499.4 1324.1,1523.1 1335.3,1527.2"/>
<path d="M1371.4,1416.0 1374.2,1474.4 1365.9,1502.2 1335.3,1527.2 1315.8,1560.6 1290.8,1588.4 1257.4,1616.2 1240.7,1644.0 1215.7,1669.1"/>
<path d="M1082.2,1552.3 1098.9,1550.9 1132.3,1574.5 1143.4,1575.9 1207.3,1616.2 1225.4,1635.7 1210.1,1652.4 1215.7,1667.7"/>
<path d="M1285.2,1549.5 1307.5,1555.0 1301.9,1574.5 1290.8,1588.4 1257.4,1610.7 1263.0,1599.5 1285.2,1571.7 1285.2,1549.5"/>
<path d="M1215.7,1667.7 1201.8,1689.9 1167.0,1706.6 1143.4,1701.0 1126.7,1702.4 1096.1,1691.3 1075.3,1689.9 1054.4,1674.6"/>
<path d="M1082.2,1552.3 1064.1,1613.4 1064.1,1644.0 1055.8,1653.8 1054.4,1674.6 1053.0,1689.9"/>
<path d="M1053.0,1689.9 1093.3,1717.7 1089.2,1740.0 1108.6,1753.9 1108.6,1769.2 1076.6,1810.9 1029.4,1827.6 996.0,1830.3"/>
<path d="M1396.0,601.0 1421.0,604.8 1449.8,616.1 1486.1,627.3 1498.6,643.6 1506.1,661.1 1498.6,683.6 1513.6,662.3 1539.9,657.3 1588.7,669.9 1603.7,674.9 1650.0,673.6 1693.8,698.6 1735.1,733.7 1758.9,743.7 1788.9,746.2 1798.9,756.2 1806.4,786.2 1818.9,817.5 1808.9,866.3 1781.4,893.8 1761.4,918.9 1736.3,943.9 1723.8,963.9 1708.8,986.4 1693.8,1001.4 1681.3,1015.9"/>
<path d="M1588.7,669.9 1586.2,681.1 1568.7,693.6 1561.2,696.1 1551.2,716.2 1553.7,741.2 1547.4,766.2 1556.2,783.7 1553.7,796.2 1536.1,801.2 1516.1,806.2 1496.1,816.3 1473.6,826.3 1466.1,841.3 1456.1,866.3 1461.1,891.3 1458.6,911.3"/>
<path d="M1458.6,911.3 1448.6,921.4 1441.0,936.4 1438.5,948.9 1448.6,956.4 1446.1,978.9 1451.1,991.4 1449.8,1015.9"/>
<path d="M1396.0,748.7 1406.0,756.2 1408.5,786.2 1401.0,813.7 1406.0,816.3 1421.0,838.8 1436.0,837.5 1437.3,851.3 1428.5,856.3 1423.5,871.3 1433.5,888.8 1436.0,896.3 1443.5,908.8 1458.6,911.3"/>
<path d="M1603.7,674.9 1601.2,688.6 1611.2,716.2 1611.2,741.2 1621.2,778.7 1631.2,801.2 1628.7,818.8 1630.0,838.8 1608.7,861.3"/>
<path d="M1608.7,861.3 1591.2,868.8 1581.2,876.3 1561.2,888.8 1546.2,883.8 1526.1,883.8 1526.1,906.3 1521.1,921.4 1503.6,926.4 1491.1,931.4 1478.6,926.4 1468.6,913.8 1458.6,911.3"/>
<path d="M1608.7,861.3 1621.2,873.8 1626.2,886.3 1636.2,878.8 1648.8,866.3 1666.3,857.5 1691.3,866.3 1706.3,877.6 1708.8,888.8 1758.9,916.4"/>
<path d="M1628.7,818.8 1656.3,818.8 1678.8,833.8 1691.3,826.3"/>
<path d="M1735.1,733.7 1718.8,746.2 1696.3,786.2 1690.0,803.7 1693.8,826.3 1691.3,828.8"/>
<path d="M1696.3,786.2 1723.8,778.7 1738.8,776.2 1730.1,788.7 1731.3,798.7 1748.9,803.7 1758.9,786.2 1768.9,786.2 1806.4,791.2"/>
<path d="M1691.3,828.8 1711.3,828.8 1733.8,818.8 1742.6,823.8 1738.8,838.8 1746.4,841.3 1758.9,833.8 1778.9,831.3 1808.9,821.3"/>
<path d="M1708.8,873.8 1721.3,868.8 1748.9,881.3 1766.4,876.3 1801.4,866.3"/>
<path d="M1711.3,891.3 1716.3,906.3 1713.8,928.9 1706.3,933.9 1708.8,943.9 1718.8,953.9 1728.8,951.4"/>
<path d="M1728.5,966.0 1699.6,1001.6 1690.7,990.5 1684.0,994.9 1690.7,1004.9 1679.6,1014.9 1680.7,1037.2 1679.6,1055.0 1685.2,1090.6 1675.1,1150.6 1664.0,1161.8 1658.5,1170.7 1657.3,1210.7 1641.8,1233.0 1624.0,1255.2 1617.3,1287.5 1595.1,1299.7 1583.9,1322.0 1546.1,1322.0 1501.6,1335.3 1479.4,1346.4 1446.0,1357.5"/>
<path d="M1446.0,1063.9 1452.7,1070.6 1466.0,1062.8 1490.5,1050.5 1510.5,1039.4 1526.1,1043.9 1526.1,1055.0 1541.7,1051.7 1586.2,1068.3 1604.0,1079.5 1610.6,1088.4 1650.7,1095.0 1652.9,1101.7 1639.5,1117.3 1632.9,1124.0 1628.4,1139.5 1641.8,1155.1 1657.3,1168.4"/>
<path d="M1641.8,1157.3 1619.5,1159.5 1612.9,1170.7 1615.1,1186.2 1609.5,1188.5 1617.3,1199.6 1610.6,1219.6 1601.7,1230.7 1588.4,1237.4 1588.4,1250.8 1579.5,1255.2 1572.8,1279.7"/>
<path d="M1588.4,1250.8 1592.8,1261.9 1617.3,1264.1"/>
<path d="M1572.8,1279.7 1548.3,1288.6 1519.4,1295.3 1494.9,1304.2 1463.8,1310.8 1446.0,1317.5"/>
<path d="M1446.0,966.0 1450.4,986.0 1448.2,1030.5 1454.9,1046.1 1454.9,1063.9"/>
<path d="M960.0,437.8 973.3,435.6 985.6,423.4 981.1,412.2 995.6,411.1 1004.5,418.9 1001.2,433.4 1010.1,437.8 1015.6,444.5 1019.0,454.5 1008.9,465.6 1008.9,477.9 1005.6,492.3 1010.1,505.7 1013.4,520.1 1032.3,537.9 1040.1,541.3 1051.2,540.2 1055.7,531.3 1067.9,527.9 1084.6,522.4 1095.7,517.9 1114.6,517.9 1133.5,522.4 1134.6,515.7 1130.1,507.9 1134.6,500.1 1141.3,502.3 1146.7,502.3 1165.6,497.8 1172.3,502.3 1180.1,506.7 1194.5,513.4 1204.6,504.5 1213.5,506.7 1215.7,515.6 1231.3,513.4 1243.5,500.1 1254.6,478.9 1271.3,446.7 1278.0,442.2"/>
<path d="M1197.3,395.1 1181.8,424.1 1184.5,446.7 1197.9,465.6 1190.1,478.9 1189.0,493.4 1180.1,506.7"/>
<path d="M1037.9,541.3 1042.3,600.0"/>
<path d="M1172.3,506.7 1172.3,523.4 1184.5,524.5 1194.5,533.4 1205.7,536.8 1215.7,542.3 1217.9,551.2 1225.7,557.9"/>
<path d="M616.7,208.4 610.0,221.7 596.0,235.0 590.0,243.4 586.0,252.0 575.0,286.8"/>
<path d="M1350.0,989.0 1366.7,1006.0 1402.8,1003.2 1447.3,992.0"/>
<path d="M896.0,838.8 913.8,838.8 919.4,844.9 928.3,851.6 934.9,859.4 942.7,867.7 944.9,862.2 949.4,860.5 955.0,863.3 1051.7,863.3 1056.2,853.8 1058.4,838.2 1063.4,816.0"/>
<path d="M955.0,863.3 953.8,882.7 956.6,893.9 952.7,905.0 956.1,916.1 955.0,935.6 989.4,935.6 1005.0,939.5 1007.2,948.4 1000.6,955.0 1001.7,963.9 1007.2,967.3 1010.6,978.4 1007.2,989.5 998.3,998.4 990.5,1016.0"/>
<path d="M896.0,987.3 906.0,989.5 916.0,998.4 933.8,1004.0 946.1,1016.0"/>
<path d="M653.5,2285.1 673.5,2278.5 703.5,2273.5 726.9,2276.8 753.6,2313.5 797.0,2333.5 842.0,2342.9 828.7,2358.5 797.0,2360.2 778.6,2350.2 770.3,2363.5 743.6,2371.9 700.2,2366.9 650.2,2355.2 576.7,2320.2 533.4,2283.5 600.1,2303.5 646.8,2313.5 653.5,2285.1"/>
<path d="M726.9,2276.8 726.9,2348.5 778.6,2350.2"/>
<path d="M773.6,2150.0 753.6,2186.7 723.6,2200.1 710.2,2215.1 718.6,2246.8 741.9,2266.8 620.1,2255.1 606.8,2236.8 608.4,2213.4 585.1,2210.1 573.4,2200.1 571.7,2168.4 600.1,2150.0"/>
<path d="M503.3,2150.0 505.0,2203.4 521.7,2226.7 513.3,2245.1 523.4,2263.4 600.1,2296.8 646.8,2313.5"/>
<path d="M648.5,2313.5 653.5,2285.1 696.9,2266.8 741.9,2266.8"/>
<path d="M967.1,2250.1 1003.8,2231.7 1030.5,2238.4 1050.6,2226.7 1077.2,2241.8 1068.9,2253.4 1023.9,2261.8 1010.5,2251.8 980.5,2265.1 967.1,2250.1"/>
</g>
<rect x="198.4" y="168.4" width="1771" height="2215" fill="none" stroke="#000" stroke-width="2.8"/>
<text x="1073.5" y="74.8" font-size="60" text-anchor="middle" textLength="515" lengthAdjust="spacingAndGlyphs" xml:space="preserve">MERGE   SPEI - 01</text>
<text x="1082.5" y="142.4" font-size="60" text-anchor="middle" textLength="585" lengthAdjust="spacingAndGlyphs">Válido para 03/2026</text>
<text x="33.2" y="277.5" font-size="60" textLength="141.0" lengthAdjust="spacingAndGlyphs">10°N</text>
<text x="113.7" y="599.1" font-size="60" textLength="60.1" lengthAdjust="spacingAndGlyphs">0°</text>
<text x="40.8" y="921.2" font-size="60" textLength="135.2" lengthAdjust="spacingAndGlyphs">10°S</text>
<text x="38.6" y="1243.2" font-size="60" textLength="137.5" lengthAdjust="spacingAndGlyphs">20°S</text>
<text x="38.6" y="1565.2" font-size="60" textLength="137.5" lengthAdjust="spacingAndGlyphs">30°S</text>
<text x="38.6" y="1887.2" font-size="60" textLength="137.5" lengthAdjust="spacingAndGlyphs">40°S</text>
<text x="38.6" y="2209.2" font-size="60" textLength="137.5" lengthAdjust="spacingAndGlyphs">50°S</text>
<text x="281.5" y="2450" font-size="60" textLength="159.2" lengthAdjust="spacingAndGlyphs">80°W</text>
<text x="603.4" y="2450" font-size="60" textLength="158.9" lengthAdjust="spacingAndGlyphs">70°W</text>
<text x="923.8" y="2450" font-size="60" textLength="158.9" lengthAdjust="spacingAndGlyphs">60°W</text>
<text x="1245.6" y="2450" font-size="60" textLength="160.9" lengthAdjust="spacingAndGlyphs">50°W</text>
<text x="1567.3" y="2450" font-size="60" textLength="161.7" lengthAdjust="spacingAndGlyphs">40°W</text>
<rect x="2010.5" y="2202.62" width="48.0" height="24.68" fill="#563105"/>
<rect x="2010.5" y="2178.54" width="48.0" height="24.68" fill="#5d3506"/>
<rect x="2010.5" y="2154.45" width="48.0" height="24.68" fill="#663a07"/>
<rect x="2010.5" y="2130.37" width="48.0" height="24.68" fill="#6c3e07"/>
<rect x="2010.5" y="2106.29" width="48.0" height="24.68" fill="#734208"/>
<rect x="2010.5" y="2082.21" width="48.0" height="24.68" fill="#794608"/>
<rect x="2010.5" y="2058.12" width="48.0" height="24.68" fill="#824b09"/>
<rect x="2010.5" y="2034.04" width="48.0" height="24.68" fill="#894f0a"/>
<rect x="2010.5" y="2009.96" width="48.0" height="24.68" fill="#8f540c"/>
<rect x="2010.5" y="1985.88" width="48.0" height="24.68" fill="#955910"/>
<rect x="2010.5" y="1961.79" width="48.0" height="24.68" fill="#9d6116"/>
<rect x="2010.5" y="1937.71" width="48.0" height="24.68" fill="#a3671a"/>
<rect x="2010.5" y="1913.63" width="48.0" height="24.68" fill="#a96c1e"/>
<rect x="2010.5" y="1889.55" width="48.0" height="24.68" fill="#af7222"/>
<rect x="2010.5" y="1865.47" width="48.0" height="24.68" fill="#b57826"/>
<rect x="2010.5" y="1841.38" width="48.0" height="24.68" fill="#bd7f2c"/>
<rect x="2010.5" y="1817.30" width="48.0" height="24.68" fill="#c28633"/>
<rect x="2010.5" y="1793.22" width="48.0" height="24.68" fill="#c58e3d"/>
<rect x="2010.5" y="1769.14" width="48.0" height="24.68" fill="#c99546"/>
<rect x="2010.5" y="1745.05" width="48.0" height="24.68" fill="#cea053"/>
<rect x="2010.5" y="1720.97" width="48.0" height="24.68" fill="#d2a75c"/>
<rect x="2010.5" y="1696.89" width="48.0" height="24.68" fill="#d6af65"/>
<rect x="2010.5" y="1672.81" width="48.0" height="24.68" fill="#d9b76f"/>
<rect x="2010.5" y="1648.73" width="48.0" height="24.68" fill="#dec17b"/>
<rect x="2010.5" y="1624.64" width="48.0" height="24.68" fill="#e1c684"/>
<rect x="2010.5" y="1600.56" width="48.0" height="24.68" fill="#e4ca8c"/>
<rect x="2010.5" y="1576.48" width="48.0" height="24.68" fill="#e7cf94"/>
<rect x="2010.5" y="1552.40" width="48.0" height="24.68" fill="#ead59f"/>
<rect x="2010.5" y="1528.31" width="48.0" height="24.68" fill="#edd9a8"/>
<rect x="2010.5" y="1504.23" width="48.0" height="24.68" fill="#f0deb0"/>
<rect x="2010.5" y="1480.15" width="48.0" height="24.68" fill="#f2e2b8"/>
<rect x="2010.5" y="1456.07" width="48.0" height="24.68" fill="#f6e8c3"/>
<rect x="2010.5" y="1431.98" width="48.0" height="24.68" fill="#f6eac9"/>
<rect x="2010.5" y="1407.90" width="48.0" height="24.68" fill="#f6ebcf"/>
<rect x="2010.5" y="1383.82" width="48.0" height="24.68" fill="#f6edd5"/>
<rect x="2010.5" y="1359.74" width="48.0" height="24.68" fill="#f5efdc"/>
<rect x="2010.5" y="1335.66" width="48.0" height="24.68" fill="#f5f0e2"/>
<rect x="2010.5" y="1311.57" width="48.0" height="24.68" fill="#f5f2e8"/>
<rect x="2010.5" y="1287.49" width="48.0" height="24.68" fill="#f5f3ee"/>
<rect x="2010.5" y="1263.41" width="48.0" height="24.68" fill="#f4f5f5"/>
<rect x="2010.5" y="1239.33" width="48.0" height="24.68" fill="#eff3f3"/>
<rect x="2010.5" y="1215.24" width="48.0" height="24.68" fill="#e9f2f1"/>
<rect x="2010.5" y="1191.16" width="48.0" height="24.68" fill="#e4f1ef"/>
<rect x="2010.5" y="1167.08" width="48.0" height="24.68" fill="#def0ed"/>
<rect x="2010.5" y="1143.00" width="48.0" height="24.68" fill="#d7eeeb"/>
<rect x="2010.5" y="1118.92" width="48.0" height="24.68" fill="#d2ede9"/>
<rect x="2010.5" y="1094.83" width="48.0" height="24.68" fill="#ccebe7"/>
<rect x="2010.5" y="1070.75" width="48.0" height="24.68" fill="#c7eae5"/>
<rect x="2010.5" y="1046.67" width="48.0" height="24.68" fill="#bce5df"/>
<rect x="2010.5" y="1022.59" width="48.0" height="24.68" fill="#b4e2db"/>
<rect x="2010.5" y="998.50" width="48.0" height="24.68" fill="#abdfd7"/>
<rect x="2010.5" y="974.42" width="48.0" height="24.68" fill="#a3dbd3"/>
<rect x="2010.5" y="950.34" width="48.0" height="24.68" fill="#98d7cd"/>
<rect x="2010.5" y="926.26" width="48.0" height="24.68" fill="#8fd3c9"/>
<rect x="2010.5" y="902.17" width="48.0" height="24.68" fill="#87d0c5"/>
<rect x="2010.5" y="878.09" width="48.0" height="24.68" fill="#7fccc0"/>
<rect x="2010.5" y="854.01" width="48.0" height="24.68" fill="#73c3b8"/>
<rect x="2010.5" y="829.93" width="48.0" height="24.68" fill="#6abdb2"/>
<rect x="2010.5" y="805.85" width="48.0" height="24.68" fill="#61b7ac"/>
<rect x="2010.5" y="781.76" width="48.0" height="24.68" fill="#58b0a7"/>
<rect x="2010.5" y="757.68" width="48.0" height="24.68" fill="#4da89f"/>
<rect x="2010.5" y="733.60" width="48.0" height="24.68" fill="#44a299"/>
<rect x="2010.5" y="709.52" width="48.0" height="24.68" fill="#3b9b93"/>
<rect x="2010.5" y="685.43" width="48.0" height="24.68" fill="#33958d"/>
<rect x="2010.5" y="661.35" width="48.0" height="24.68" fill="#2b8d85"/>
<rect x="2010.5" y="637.27" width="48.0" height="24.68" fill="#258880"/>
<rect x="2010.5" y="613.19" width="48.0" height="24.68" fill="#1f827a"/>
<rect x="2010.5" y="589.11" width="48.0" height="24.68" fill="#187c74"/>
<rect x="2010.5" y="565.02" width="48.0" height="24.68" fill="#12766e"/>
<rect x="2010.5" y="540.94" width="48.0" height="24.68" fill="#0a6f67"/>
<rect x="2010.5" y="516.86" width="48.0" height="24.68" fill="#046961"/>
<rect x="2010.5" y="492.78" width="48.0" height="24.68" fill="#01645b"/>
<rect x="2010.5" y="468.69" width="48.0" height="24.68" fill="#015f56"/>
<rect x="2010.5" y="444.61" width="48.0" height="24.68" fill="#01584f"/>
<rect x="2010.5" y="420.53" width="48.0" height="24.68" fill="#015349"/>
<rect x="2010.5" y="396.45" width="48.0" height="24.68" fill="#004e44"/>
<rect x="2010.5" y="372.36" width="48.0" height="24.68" fill="#00493e"/>
<rect x="2010.5" y="348.28" width="48.0" height="24.68" fill="#004337"/>
<rect x="2010.5" y="324.20" width="48.0" height="24.68" fill="#003e32"/>
<path d="M2010.5,324.5 L2034.5,229 L2058.5,324.5Z" fill="#003c30"/>
<path d="M2010.5,2227.0 L2034.5,2321 L2058.5,2227.0Z" fill="#543005"/>
<path d="M2010.5,324.5 L2034.5,229 L2058.5,324.5 L2058.5,2227.0 L2034.5,2321 L2010.5,2227.0Z" fill="none" stroke="#000" stroke-width="3"/>
<line x1="2058.5" y1="2227" x2="2073.5" y2="2227" stroke="#000" stroke-width="2.8"/>
<text x="2087" y="2245.0" font-size="50">-4</text>
<line x1="2058.5" y1="1985.8" x2="2073.5" y2="1985.8" stroke="#000" stroke-width="2.8"/>
<text x="2087" y="2003.8" font-size="50">-3</text>
<line x1="2058.5" y1="1745.5" x2="2073.5" y2="1745.5" stroke="#000" stroke-width="2.8"/>
<text x="2087" y="1763.5" font-size="50">-2</text>
<line x1="2058.5" y1="1505" x2="2073.5" y2="1505" stroke="#000" stroke-width="2.8"/>
<text x="2087" y="1523.0" font-size="50">-1</text>
<line x1="2058.5" y1="1264" x2="2073.5" y2="1264" stroke="#000" stroke-width="2.8"/>
<text x="2087" y="1282.0" font-size="50">0</text>
<line x1="2058.5" y1="1023" x2="2073.5" y2="1023" stroke="#000" stroke-width="2.8"/>
<text x="2087" y="1041.0" font-size="50">1</text>
<line x1="2058.5" y1="781.9" x2="2073.5" y2="781.9" stroke="#000" stroke-width="2.8"/>
<text x="2087" y="799.9" font-size="50">2</text>
<line x1="2058.5" y1="540.9" x2="2073.5" y2="540.9" stroke="#000" stroke-width="2.8"/>
<text x="2087" y="558.9" font-size="50">3</text>
<line x1="2058.5" y1="324.5" x2="2073.5" y2="324.5" stroke="#000" stroke-width="2.8"/>
<text x="2087" y="342.5" font-size="50">4</text>
<g transform="translate(1740,2180) scale(0.11123)">
<path d="M180,650 C190,900 350,1150 600,1230 C800,1290 1050,1230 1250,1050 C1450,870 1560,650 1580,420 L1650,420 L1435,200 L1200,420 L1280,420 C1260,650 1150,850 1000,980 C850,1090 650,1110 450,1010 C300,930 200,800 180,650Z" fill="#0072b9"/>
<path d="M175,660 C160,380 380,85 650,85 C880,85 1030,260 1030,510 L1100,510 L870,710 L680,510 L750,510 C750,380 650,310 530,315 C380,330 230,460 190,660" fill="none" stroke="#0072b9" stroke-width="22"/>
<circle cx="870" cy="885" r="150" fill="#f39200"/>
<text x="265" y="775" font-size="210" font-style="italic" font-weight="bold" style="fill:#111" textLength="455" lengthAdjust="spacingAndGlyphs">INPE</text>
</g>
</svg></body></html>
